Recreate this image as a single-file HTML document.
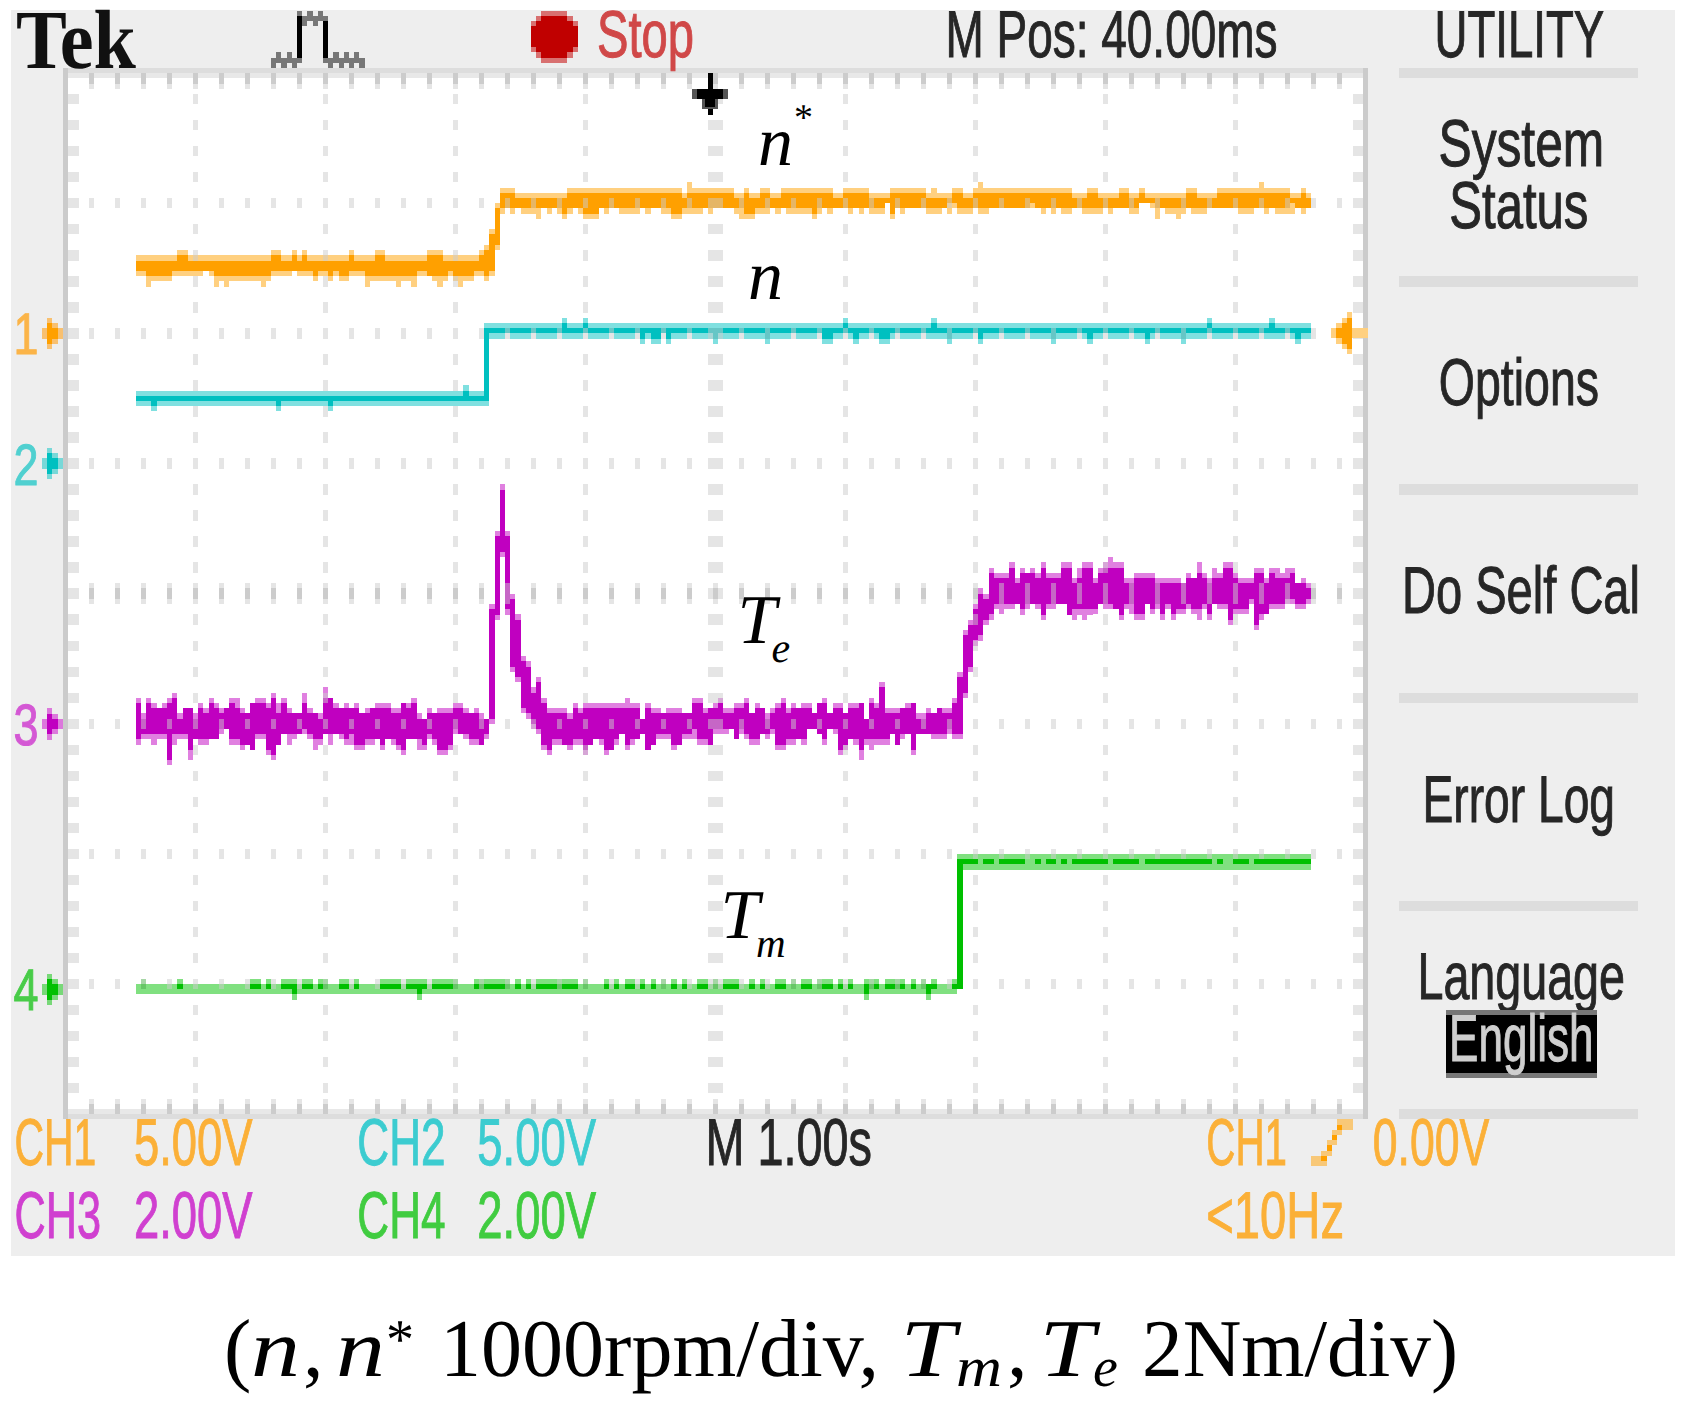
<!DOCTYPE html>
<html><head><meta charset="utf-8"><title>Tek scope</title>
<style>
html,body{margin:0;padding:0;background:#fff;}
svg{display:block;}
text{font-family:"Liberation Sans",Arimo,Arial,sans-serif;}
text.s{font-family:"Liberation Serif",Tinos,"Times New Roman",serif;}
</style></head><body>
<svg width="1685" height="1404" viewBox="0 0 1685 1404" shape-rendering="crispEdges" text-rendering="geometricPrecision">
<rect x="11" y="10.4" width="1663.6" height="1245.1" fill="#eeeeee"/>
<rect x="68.2" y="73.1" width="1294.8" height="1041.1" fill="#ffffff"/>
<rect x="63" y="67.9" width="5.2" height="1051.5" fill="#cbcbcb"/>
<rect x="1363" y="67.9" width="5.2" height="1051.5" fill="#cbcbcb"/>
<rect x="68.2" y="67.9" width="1294.8" height="5.2" fill="#dddddd"/>
<rect x="68.2" y="1114.2" width="1294.8" height="5.2" fill="#dddddd"/>
<rect x="68.2" y="73.1" width="1294.8" height="5.2" fill="#e8e8e8"/>
<rect x="68.2" y="1109" width="1294.8" height="5.2" fill="#e8e8e8"/>
<path d="M89 73.1h5.2v10.4h-5.2zM89 1103.8h5.2v10.4h-5.2zM89 588.4h5.2v10.4h-5.2zM115 73.1h5.2v10.4h-5.2zM115 1103.8h5.2v10.4h-5.2zM115 588.4h5.2v10.4h-5.2zM141 73.1h5.2v10.4h-5.2zM141 1103.8h5.2v10.4h-5.2zM141 588.4h5.2v10.4h-5.2zM167 73.1h5.2v10.4h-5.2zM167 1103.8h5.2v10.4h-5.2zM167 588.4h5.2v10.4h-5.2zM193 73.1h5.2v10.4h-5.2zM193 1103.8h5.2v10.4h-5.2zM193 588.4h5.2v10.4h-5.2zM219 73.1h5.2v10.4h-5.2zM219 1103.8h5.2v10.4h-5.2zM219 588.4h5.2v10.4h-5.2zM245 73.1h5.2v10.4h-5.2zM245 1103.8h5.2v10.4h-5.2zM245 588.4h5.2v10.4h-5.2zM271 73.1h5.2v10.4h-5.2zM271 1103.8h5.2v10.4h-5.2zM271 588.4h5.2v10.4h-5.2zM297 73.1h5.2v10.4h-5.2zM297 1103.8h5.2v10.4h-5.2zM297 588.4h5.2v10.4h-5.2zM323 73.1h5.2v10.4h-5.2zM323 1103.8h5.2v10.4h-5.2zM323 588.4h5.2v10.4h-5.2zM349 73.1h5.2v10.4h-5.2zM349 1103.8h5.2v10.4h-5.2zM349 588.4h5.2v10.4h-5.2zM375 73.1h5.2v10.4h-5.2zM375 1103.8h5.2v10.4h-5.2zM375 588.4h5.2v10.4h-5.2zM401 73.1h5.2v10.4h-5.2zM401 1103.8h5.2v10.4h-5.2zM401 588.4h5.2v10.4h-5.2zM427 73.1h5.2v10.4h-5.2zM427 1103.8h5.2v10.4h-5.2zM427 588.4h5.2v10.4h-5.2zM453 73.1h5.2v10.4h-5.2zM453 1103.8h5.2v10.4h-5.2zM453 588.4h5.2v10.4h-5.2zM479 73.1h5.2v10.4h-5.2zM479 1103.8h5.2v10.4h-5.2zM479 588.4h5.2v10.4h-5.2zM505 73.1h5.2v10.4h-5.2zM505 1103.8h5.2v10.4h-5.2zM505 588.4h5.2v10.4h-5.2zM531 73.1h5.2v10.4h-5.2zM531 1103.8h5.2v10.4h-5.2zM531 588.4h5.2v10.4h-5.2zM557 73.1h5.2v10.4h-5.2zM557 1103.8h5.2v10.4h-5.2zM557 588.4h5.2v10.4h-5.2zM583 73.1h5.2v10.4h-5.2zM583 1103.8h5.2v10.4h-5.2zM583 588.4h5.2v10.4h-5.2zM609 73.1h5.2v10.4h-5.2zM609 1103.8h5.2v10.4h-5.2zM609 588.4h5.2v10.4h-5.2zM635 73.1h5.2v10.4h-5.2zM635 1103.8h5.2v10.4h-5.2zM635 588.4h5.2v10.4h-5.2zM661 73.1h5.2v10.4h-5.2zM661 1103.8h5.2v10.4h-5.2zM661 588.4h5.2v10.4h-5.2zM687 73.1h5.2v10.4h-5.2zM687 1103.8h5.2v10.4h-5.2zM687 588.4h5.2v10.4h-5.2zM713 73.1h5.2v10.4h-5.2zM713 1103.8h5.2v10.4h-5.2zM713 588.4h5.2v10.4h-5.2zM739 73.1h5.2v10.4h-5.2zM739 1103.8h5.2v10.4h-5.2zM739 588.4h5.2v10.4h-5.2zM765 73.1h5.2v10.4h-5.2zM765 1103.8h5.2v10.4h-5.2zM765 588.4h5.2v10.4h-5.2zM791 73.1h5.2v10.4h-5.2zM791 1103.8h5.2v10.4h-5.2zM791 588.4h5.2v10.4h-5.2zM817 73.1h5.2v10.4h-5.2zM817 1103.8h5.2v10.4h-5.2zM817 588.4h5.2v10.4h-5.2zM843 73.1h5.2v10.4h-5.2zM843 1103.8h5.2v10.4h-5.2zM843 588.4h5.2v10.4h-5.2zM869 73.1h5.2v10.4h-5.2zM869 1103.8h5.2v10.4h-5.2zM869 588.4h5.2v10.4h-5.2zM895 73.1h5.2v10.4h-5.2zM895 1103.8h5.2v10.4h-5.2zM895 588.4h5.2v10.4h-5.2zM921 73.1h5.2v10.4h-5.2zM921 1103.8h5.2v10.4h-5.2zM921 588.4h5.2v10.4h-5.2zM947 73.1h5.2v10.4h-5.2zM947 1103.8h5.2v10.4h-5.2zM947 588.4h5.2v10.4h-5.2zM973 73.1h5.2v10.4h-5.2zM973 1103.8h5.2v10.4h-5.2zM973 588.4h5.2v10.4h-5.2zM999 73.1h5.2v10.4h-5.2zM999 1103.8h5.2v10.4h-5.2zM999 588.4h5.2v10.4h-5.2zM1025 73.1h5.2v10.4h-5.2zM1025 1103.8h5.2v10.4h-5.2zM1025 588.4h5.2v10.4h-5.2zM1051 73.1h5.2v10.4h-5.2zM1051 1103.8h5.2v10.4h-5.2zM1051 588.4h5.2v10.4h-5.2zM1077 73.1h5.2v10.4h-5.2zM1077 1103.8h5.2v10.4h-5.2zM1077 588.4h5.2v10.4h-5.2zM1103 73.1h5.2v10.4h-5.2zM1103 1103.8h5.2v10.4h-5.2zM1103 588.4h5.2v10.4h-5.2zM1129 73.1h5.2v10.4h-5.2zM1129 1103.8h5.2v10.4h-5.2zM1129 588.4h5.2v10.4h-5.2zM1155 73.1h5.2v10.4h-5.2zM1155 1103.8h5.2v10.4h-5.2zM1155 588.4h5.2v10.4h-5.2zM1181 73.1h5.2v10.4h-5.2zM1181 1103.8h5.2v10.4h-5.2zM1181 588.4h5.2v10.4h-5.2zM1207 73.1h5.2v10.4h-5.2zM1207 1103.8h5.2v10.4h-5.2zM1207 588.4h5.2v10.4h-5.2zM1233 73.1h5.2v10.4h-5.2zM1233 1103.8h5.2v10.4h-5.2zM1233 588.4h5.2v10.4h-5.2zM1259 73.1h5.2v10.4h-5.2zM1259 1103.8h5.2v10.4h-5.2zM1259 588.4h5.2v10.4h-5.2zM1285 73.1h5.2v10.4h-5.2zM1285 1103.8h5.2v10.4h-5.2zM1285 588.4h5.2v10.4h-5.2zM1311 73.1h5.2v10.4h-5.2zM1311 1103.8h5.2v10.4h-5.2zM1311 588.4h5.2v10.4h-5.2zM1337 73.1h5.2v10.4h-5.2zM1337 1103.8h5.2v10.4h-5.2zM1337 588.4h5.2v10.4h-5.2z" fill="#cccccc"/>
<path d="M135.8 255.3h5.2v20.8h-5.2zM141 255.3h5.2v20.8h-5.2zM146.2 255.3h5.2v31.2h-5.2zM151.4 255.3h5.2v26h-5.2zM156.6 255.3h5.2v26h-5.2zM161.8 255.3h5.2v26h-5.2zM167 255.3h5.2v26h-5.2zM172.2 255.3h5.2v20.8h-5.2zM177.4 250.1h5.2v26h-5.2zM182.6 250.1h5.2v26h-5.2zM187.8 255.3h5.2v20.8h-5.2zM193 255.3h5.2v20.8h-5.2zM198.2 255.3h5.2v20.8h-5.2zM203.4 255.3h5.2v15.6h-5.2zM208.6 255.3h5.2v20.8h-5.2zM213.8 255.3h5.2v31.2h-5.2zM219 255.3h5.2v26h-5.2zM224.2 255.3h5.2v31.2h-5.2zM229.4 255.3h5.2v26h-5.2zM234.6 255.3h5.2v26h-5.2zM239.8 255.3h5.2v26h-5.2zM245 255.3h5.2v26h-5.2zM250.2 255.3h5.2v26h-5.2zM255.4 255.3h5.2v26h-5.2zM260.6 255.3h5.2v31.2h-5.2zM265.8 255.3h5.2v26h-5.2zM271 250.1h5.2v26h-5.2zM276.2 250.1h5.2v26h-5.2zM281.4 255.3h5.2v20.8h-5.2zM286.6 255.3h5.2v20.8h-5.2zM291.8 250.1h5.2v20.8h-5.2zM297 255.3h5.2v20.8h-5.2zM302.2 250.1h5.2v26h-5.2zM307.4 255.3h5.2v20.8h-5.2zM312.6 255.3h5.2v26h-5.2zM317.8 255.3h5.2v20.8h-5.2zM323 255.3h5.2v20.8h-5.2zM328.2 255.3h5.2v26h-5.2zM333.4 255.3h5.2v20.8h-5.2zM338.6 255.3h5.2v26h-5.2zM343.8 255.3h5.2v26h-5.2zM349 250.1h5.2v26h-5.2zM354.2 255.3h5.2v20.8h-5.2zM359.4 255.3h5.2v20.8h-5.2zM364.6 255.3h5.2v31.2h-5.2zM369.8 255.3h5.2v26h-5.2zM375 250.1h5.2v31.2h-5.2zM380.2 250.1h5.2v31.2h-5.2zM385.4 255.3h5.2v26h-5.2zM390.6 255.3h5.2v26h-5.2zM395.8 255.3h5.2v31.2h-5.2zM401 255.3h5.2v26h-5.2zM406.2 255.3h5.2v26h-5.2zM411.4 255.3h5.2v31.2h-5.2zM416.6 255.3h5.2v20.8h-5.2zM421.8 255.3h5.2v20.8h-5.2zM427 250.1h5.2v26h-5.2zM432.2 250.1h5.2v31.2h-5.2zM437.4 250.1h5.2v36.4h-5.2zM442.6 255.3h5.2v26h-5.2zM447.8 255.3h5.2v20.8h-5.2zM453 255.3h5.2v26h-5.2zM458.2 255.3h5.2v31.2h-5.2zM463.4 255.3h5.2v26h-5.2zM468.6 255.3h5.2v26h-5.2zM473.8 255.3h5.2v20.8h-5.2zM479 250.1h5.2v26h-5.2zM484.2 244.9h5.2v36.4h-5.2zM489.4 229.2h5.2v46.9h-5.2zM494.6 203.2h5.2v46.9h-5.2zM499.8 187.6h5.2v26h-5.2zM505 187.6h5.2v20.8h-5.2zM510.2 187.6h5.2v26h-5.2zM515.4 192.8h5.2v15.6h-5.2zM520.6 192.8h5.2v20.8h-5.2zM525.8 192.8h5.2v20.8h-5.2zM531 192.8h5.2v20.8h-5.2zM536.2 192.8h5.2v26h-5.2zM541.4 192.8h5.2v15.6h-5.2zM546.6 192.8h5.2v20.8h-5.2zM551.8 192.8h5.2v15.6h-5.2zM557 192.8h5.2v20.8h-5.2zM562.2 192.8h5.2v26h-5.2zM567.4 187.6h5.2v26h-5.2zM572.6 187.6h5.2v20.8h-5.2zM577.8 187.6h5.2v26h-5.2zM583 187.6h5.2v31.2h-5.2zM588.2 187.6h5.2v31.2h-5.2zM593.4 187.6h5.2v31.2h-5.2zM598.6 187.6h5.2v20.8h-5.2zM603.8 187.6h5.2v26h-5.2zM609 187.6h5.2v20.8h-5.2zM614.2 187.6h5.2v20.8h-5.2zM619.4 187.6h5.2v26h-5.2zM624.6 187.6h5.2v26h-5.2zM629.8 187.6h5.2v26h-5.2zM635 187.6h5.2v26h-5.2zM640.2 187.6h5.2v20.8h-5.2zM645.4 187.6h5.2v26h-5.2zM650.6 187.6h5.2v20.8h-5.2zM655.8 187.6h5.2v20.8h-5.2zM661 187.6h5.2v26h-5.2zM666.2 187.6h5.2v26h-5.2zM671.4 187.6h5.2v31.2h-5.2zM676.6 187.6h5.2v31.2h-5.2zM681.8 192.8h5.2v20.8h-5.2zM687 182.4h5.2v31.2h-5.2zM692.2 187.6h5.2v26h-5.2zM697.4 187.6h5.2v26h-5.2zM702.6 187.6h5.2v20.8h-5.2zM707.8 187.6h5.2v26h-5.2zM713 187.6h5.2v20.8h-5.2zM718.2 187.6h5.2v20.8h-5.2zM723.4 187.6h5.2v20.8h-5.2zM728.6 187.6h5.2v20.8h-5.2zM733.8 192.8h5.2v20.8h-5.2zM739 192.8h5.2v26h-5.2zM744.2 187.6h5.2v31.2h-5.2zM749.4 192.8h5.2v26h-5.2zM754.6 192.8h5.2v20.8h-5.2zM759.8 187.6h5.2v26h-5.2zM765 187.6h5.2v26h-5.2zM770.2 192.8h5.2v15.6h-5.2zM775.4 192.8h5.2v20.8h-5.2zM780.6 187.6h5.2v20.8h-5.2zM785.8 187.6h5.2v26h-5.2zM791 187.6h5.2v26h-5.2zM796.2 187.6h5.2v26h-5.2zM801.4 187.6h5.2v26h-5.2zM806.6 187.6h5.2v26h-5.2zM811.8 187.6h5.2v31.2h-5.2zM817 187.6h5.2v26h-5.2zM822.2 187.6h5.2v20.8h-5.2zM827.4 187.6h5.2v26h-5.2zM832.6 192.8h5.2v15.6h-5.2zM837.8 192.8h5.2v15.6h-5.2zM843 187.6h5.2v20.8h-5.2zM848.2 187.6h5.2v26h-5.2zM853.4 187.6h5.2v20.8h-5.2zM858.6 187.6h5.2v26h-5.2zM863.8 187.6h5.2v20.8h-5.2zM869 192.8h5.2v20.8h-5.2zM874.2 192.8h5.2v20.8h-5.2zM879.4 192.8h5.2v20.8h-5.2zM884.6 192.8h5.2v10.4h-5.2zM889.8 187.6h5.2v31.2h-5.2zM895 187.6h5.2v20.8h-5.2zM900.2 187.6h5.2v26h-5.2zM905.4 187.6h5.2v20.8h-5.2zM910.6 187.6h5.2v20.8h-5.2zM915.8 187.6h5.2v20.8h-5.2zM921 187.6h5.2v20.8h-5.2zM926.2 192.8h5.2v20.8h-5.2zM931.4 187.6h5.2v26h-5.2zM936.6 192.8h5.2v20.8h-5.2zM941.8 192.8h5.2v15.6h-5.2zM947 192.8h5.2v20.8h-5.2zM952.2 187.6h5.2v20.8h-5.2zM957.4 187.6h5.2v26h-5.2zM962.6 192.8h5.2v20.8h-5.2zM967.8 192.8h5.2v20.8h-5.2zM973 187.6h5.2v20.8h-5.2zM978.2 182.4h5.2v31.2h-5.2zM983.4 187.6h5.2v26h-5.2zM988.6 187.6h5.2v20.8h-5.2zM993.8 187.6h5.2v20.8h-5.2zM999 187.6h5.2v20.8h-5.2zM1004.2 187.6h5.2v20.8h-5.2zM1009.4 187.6h5.2v20.8h-5.2zM1014.6 187.6h5.2v20.8h-5.2zM1019.8 187.6h5.2v20.8h-5.2zM1025 187.6h5.2v20.8h-5.2zM1030.2 187.6h5.2v20.8h-5.2zM1035.4 187.6h5.2v20.8h-5.2zM1040.6 187.6h5.2v26h-5.2zM1045.8 187.6h5.2v20.8h-5.2zM1051 187.6h5.2v26h-5.2zM1056.2 187.6h5.2v20.8h-5.2zM1061.4 187.6h5.2v26h-5.2zM1066.6 187.6h5.2v26h-5.2zM1071.8 192.8h5.2v15.6h-5.2zM1077 192.8h5.2v15.6h-5.2zM1082.2 192.8h5.2v20.8h-5.2zM1087.4 187.6h5.2v26h-5.2zM1092.6 187.6h5.2v26h-5.2zM1097.8 192.8h5.2v20.8h-5.2zM1103 192.8h5.2v15.6h-5.2zM1108.2 192.8h5.2v20.8h-5.2zM1113.4 192.8h5.2v15.6h-5.2zM1118.6 187.6h5.2v20.8h-5.2zM1123.8 187.6h5.2v20.8h-5.2zM1129 192.8h5.2v20.8h-5.2zM1134.2 192.8h5.2v20.8h-5.2zM1139.4 187.6h5.2v15.6h-5.2zM1144.6 192.8h5.2v10.4h-5.2zM1149.8 192.8h5.2v15.6h-5.2zM1155 192.8h5.2v26h-5.2zM1160.2 192.8h5.2v15.6h-5.2zM1165.4 192.8h5.2v20.8h-5.2zM1170.6 192.8h5.2v20.8h-5.2zM1175.8 192.8h5.2v26h-5.2zM1181 192.8h5.2v20.8h-5.2zM1186.2 187.6h5.2v20.8h-5.2zM1191.4 187.6h5.2v26h-5.2zM1196.6 192.8h5.2v20.8h-5.2zM1201.8 192.8h5.2v20.8h-5.2zM1207 192.8h5.2v15.6h-5.2zM1212.2 192.8h5.2v15.6h-5.2zM1217.4 187.6h5.2v20.8h-5.2zM1222.6 187.6h5.2v20.8h-5.2zM1227.8 187.6h5.2v20.8h-5.2zM1233 187.6h5.2v20.8h-5.2zM1238.2 187.6h5.2v26h-5.2zM1243.4 187.6h5.2v26h-5.2zM1248.6 187.6h5.2v26h-5.2zM1253.8 187.6h5.2v20.8h-5.2zM1259 182.4h5.2v26h-5.2zM1264.2 187.6h5.2v26h-5.2zM1269.4 187.6h5.2v20.8h-5.2zM1274.6 187.6h5.2v26h-5.2zM1279.8 187.6h5.2v26h-5.2zM1285 187.6h5.2v26h-5.2zM1290.2 192.8h5.2v20.8h-5.2zM1295.4 192.8h5.2v15.6h-5.2zM1300.6 187.6h5.2v26h-5.2zM1305.8 192.8h5.2v15.6h-5.2z" fill="#ffd080"/>
<path d="M135.8 260.5h5.2v10.4h-5.2zM141 260.5h5.2v10.4h-5.2zM146.2 260.5h5.2v15.6h-5.2zM151.4 260.5h5.2v15.6h-5.2zM156.6 260.5h5.2v15.6h-5.2zM161.8 260.5h5.2v15.6h-5.2zM167 260.5h5.2v15.6h-5.2zM172.2 260.5h5.2v10.4h-5.2zM177.4 255.3h5.2v15.6h-5.2zM182.6 255.3h5.2v15.6h-5.2zM187.8 260.5h5.2v10.4h-5.2zM193 260.5h5.2v10.4h-5.2zM198.2 260.5h5.2v10.4h-5.2zM203.4 260.5h5.2v10.4h-5.2zM208.6 260.5h5.2v10.4h-5.2zM213.8 260.5h5.2v15.6h-5.2zM219 260.5h5.2v15.6h-5.2zM224.2 260.5h5.2v15.6h-5.2zM229.4 260.5h5.2v15.6h-5.2zM234.6 260.5h5.2v15.6h-5.2zM239.8 260.5h5.2v15.6h-5.2zM245 260.5h5.2v15.6h-5.2zM250.2 260.5h5.2v15.6h-5.2zM255.4 260.5h5.2v15.6h-5.2zM260.6 260.5h5.2v15.6h-5.2zM265.8 260.5h5.2v15.6h-5.2zM271 255.3h5.2v15.6h-5.2zM276.2 255.3h5.2v15.6h-5.2zM281.4 260.5h5.2v10.4h-5.2zM286.6 260.5h5.2v10.4h-5.2zM291.8 255.3h5.2v15.6h-5.2zM297 260.5h5.2v10.4h-5.2zM302.2 255.3h5.2v15.6h-5.2zM307.4 260.5h5.2v10.4h-5.2zM312.6 260.5h5.2v15.6h-5.2zM317.8 260.5h5.2v10.4h-5.2zM323 260.5h5.2v10.4h-5.2zM328.2 260.5h5.2v15.6h-5.2zM333.4 260.5h5.2v10.4h-5.2zM338.6 260.5h5.2v15.6h-5.2zM343.8 260.5h5.2v15.6h-5.2zM349 255.3h5.2v15.6h-5.2zM354.2 260.5h5.2v10.4h-5.2zM359.4 260.5h5.2v10.4h-5.2zM364.6 260.5h5.2v15.6h-5.2zM369.8 260.5h5.2v15.6h-5.2zM375 255.3h5.2v20.8h-5.2zM380.2 255.3h5.2v20.8h-5.2zM385.4 260.5h5.2v15.6h-5.2zM390.6 260.5h5.2v15.6h-5.2zM395.8 260.5h5.2v15.6h-5.2zM401 260.5h5.2v15.6h-5.2zM406.2 260.5h5.2v15.6h-5.2zM411.4 260.5h5.2v15.6h-5.2zM416.6 260.5h5.2v10.4h-5.2zM421.8 260.5h5.2v10.4h-5.2zM427 255.3h5.2v20.8h-5.2zM432.2 255.3h5.2v20.8h-5.2zM437.4 255.3h5.2v20.8h-5.2zM442.6 260.5h5.2v15.6h-5.2zM447.8 260.5h5.2v10.4h-5.2zM453 260.5h5.2v15.6h-5.2zM458.2 260.5h5.2v15.6h-5.2zM463.4 260.5h5.2v15.6h-5.2zM468.6 260.5h5.2v15.6h-5.2zM473.8 260.5h5.2v10.4h-5.2zM479 255.3h5.2v15.6h-5.2zM484.2 250.1h5.2v26h-5.2zM489.4 234.4h5.2v36.4h-5.2zM494.6 208.4h5.2v36.4h-5.2zM499.8 192.8h5.2v15.6h-5.2zM505 192.8h5.2v15.6h-5.2zM510.2 192.8h5.2v15.6h-5.2zM515.4 198h5.2v10.4h-5.2zM520.6 198h5.2v10.4h-5.2zM525.8 198h5.2v10.4h-5.2zM531 198h5.2v10.4h-5.2zM536.2 198h5.2v10.4h-5.2zM541.4 198h5.2v10.4h-5.2zM546.6 198h5.2v10.4h-5.2zM551.8 198h5.2v10.4h-5.2zM557 198h5.2v10.4h-5.2zM562.2 198h5.2v15.6h-5.2zM567.4 192.8h5.2v15.6h-5.2zM572.6 192.8h5.2v15.6h-5.2zM577.8 192.8h5.2v15.6h-5.2zM583 192.8h5.2v20.8h-5.2zM588.2 192.8h5.2v20.8h-5.2zM593.4 192.8h5.2v20.8h-5.2zM598.6 192.8h5.2v15.6h-5.2zM603.8 192.8h5.2v15.6h-5.2zM609 192.8h5.2v15.6h-5.2zM614.2 192.8h5.2v15.6h-5.2zM619.4 192.8h5.2v15.6h-5.2zM624.6 192.8h5.2v15.6h-5.2zM629.8 192.8h5.2v15.6h-5.2zM635 192.8h5.2v15.6h-5.2zM640.2 192.8h5.2v15.6h-5.2zM645.4 192.8h5.2v15.6h-5.2zM650.6 192.8h5.2v15.6h-5.2zM655.8 192.8h5.2v15.6h-5.2zM661 192.8h5.2v15.6h-5.2zM666.2 192.8h5.2v15.6h-5.2zM671.4 192.8h5.2v20.8h-5.2zM676.6 192.8h5.2v20.8h-5.2zM681.8 198h5.2v10.4h-5.2zM687 192.8h5.2v15.6h-5.2zM692.2 192.8h5.2v15.6h-5.2zM697.4 192.8h5.2v15.6h-5.2zM702.6 192.8h5.2v15.6h-5.2zM707.8 192.8h5.2v15.6h-5.2zM713 192.8h5.2v15.6h-5.2zM718.2 192.8h5.2v15.6h-5.2zM723.4 192.8h5.2v15.6h-5.2zM728.6 192.8h5.2v15.6h-5.2zM733.8 198h5.2v10.4h-5.2zM739 198h5.2v10.4h-5.2zM744.2 192.8h5.2v20.8h-5.2zM749.4 198h5.2v15.6h-5.2zM754.6 198h5.2v10.4h-5.2zM759.8 192.8h5.2v15.6h-5.2zM765 192.8h5.2v15.6h-5.2zM770.2 198h5.2v10.4h-5.2zM775.4 198h5.2v10.4h-5.2zM780.6 192.8h5.2v15.6h-5.2zM785.8 192.8h5.2v15.6h-5.2zM791 192.8h5.2v15.6h-5.2zM796.2 192.8h5.2v15.6h-5.2zM801.4 192.8h5.2v15.6h-5.2zM806.6 192.8h5.2v15.6h-5.2zM811.8 192.8h5.2v20.8h-5.2zM817 192.8h5.2v15.6h-5.2zM822.2 192.8h5.2v15.6h-5.2zM827.4 192.8h5.2v15.6h-5.2zM832.6 198h5.2v10.4h-5.2zM837.8 198h5.2v10.4h-5.2zM843 192.8h5.2v15.6h-5.2zM848.2 192.8h5.2v15.6h-5.2zM853.4 192.8h5.2v15.6h-5.2zM858.6 192.8h5.2v15.6h-5.2zM863.8 192.8h5.2v15.6h-5.2zM869 198h5.2v10.4h-5.2zM874.2 198h5.2v10.4h-5.2zM879.4 198h5.2v10.4h-5.2zM884.6 198h5.2v5.2h-5.2zM889.8 192.8h5.2v20.8h-5.2zM895 192.8h5.2v15.6h-5.2zM900.2 192.8h5.2v15.6h-5.2zM905.4 192.8h5.2v15.6h-5.2zM910.6 192.8h5.2v15.6h-5.2zM915.8 192.8h5.2v15.6h-5.2zM921 192.8h5.2v15.6h-5.2zM926.2 198h5.2v10.4h-5.2zM931.4 198h5.2v10.4h-5.2zM936.6 198h5.2v10.4h-5.2zM941.8 198h5.2v10.4h-5.2zM947 198h5.2v5.2h-5.2zM952.2 192.8h5.2v10.4h-5.2zM957.4 192.8h5.2v15.6h-5.2zM962.6 198h5.2v10.4h-5.2zM967.8 198h5.2v10.4h-5.2zM973 192.8h5.2v15.6h-5.2zM978.2 192.8h5.2v15.6h-5.2zM983.4 192.8h5.2v15.6h-5.2zM988.6 192.8h5.2v15.6h-5.2zM993.8 192.8h5.2v15.6h-5.2zM999 192.8h5.2v15.6h-5.2zM1004.2 192.8h5.2v15.6h-5.2zM1009.4 192.8h5.2v15.6h-5.2zM1014.6 192.8h5.2v15.6h-5.2zM1019.8 192.8h5.2v15.6h-5.2zM1025 192.8h5.2v15.6h-5.2zM1030.2 192.8h5.2v10.4h-5.2zM1035.4 192.8h5.2v15.6h-5.2zM1040.6 192.8h5.2v15.6h-5.2zM1045.8 192.8h5.2v15.6h-5.2zM1051 192.8h5.2v15.6h-5.2zM1056.2 192.8h5.2v15.6h-5.2zM1061.4 192.8h5.2v15.6h-5.2zM1066.6 192.8h5.2v15.6h-5.2zM1071.8 198h5.2v10.4h-5.2zM1077 198h5.2v10.4h-5.2zM1082.2 198h5.2v10.4h-5.2zM1087.4 192.8h5.2v15.6h-5.2zM1092.6 192.8h5.2v15.6h-5.2zM1097.8 198h5.2v10.4h-5.2zM1103 198h5.2v10.4h-5.2zM1108.2 198h5.2v10.4h-5.2zM1113.4 198h5.2v10.4h-5.2zM1118.6 192.8h5.2v15.6h-5.2zM1123.8 192.8h5.2v15.6h-5.2zM1129 198h5.2v10.4h-5.2zM1134.2 198h5.2v10.4h-5.2zM1139.4 192.8h5.2v10.4h-5.2zM1144.6 198h5.2v5.2h-5.2zM1149.8 198h5.2v5.2h-5.2zM1155 198h5.2v10.4h-5.2zM1160.2 198h5.2v10.4h-5.2zM1165.4 198h5.2v10.4h-5.2zM1170.6 198h5.2v10.4h-5.2zM1175.8 198h5.2v10.4h-5.2zM1181 198h5.2v10.4h-5.2zM1186.2 192.8h5.2v15.6h-5.2zM1191.4 192.8h5.2v15.6h-5.2zM1196.6 198h5.2v10.4h-5.2zM1201.8 198h5.2v10.4h-5.2zM1207 198h5.2v10.4h-5.2zM1212.2 198h5.2v10.4h-5.2zM1217.4 192.8h5.2v15.6h-5.2zM1222.6 192.8h5.2v15.6h-5.2zM1227.8 192.8h5.2v15.6h-5.2zM1233 192.8h5.2v15.6h-5.2zM1238.2 192.8h5.2v15.6h-5.2zM1243.4 192.8h5.2v15.6h-5.2zM1248.6 192.8h5.2v15.6h-5.2zM1253.8 192.8h5.2v15.6h-5.2zM1259 192.8h5.2v15.6h-5.2zM1264.2 192.8h5.2v15.6h-5.2zM1269.4 192.8h5.2v15.6h-5.2zM1274.6 192.8h5.2v15.6h-5.2zM1279.8 192.8h5.2v15.6h-5.2zM1285 192.8h5.2v15.6h-5.2zM1290.2 198h5.2v5.2h-5.2zM1295.4 198h5.2v10.4h-5.2zM1300.6 192.8h5.2v15.6h-5.2zM1305.8 198h5.2v10.4h-5.2z" fill="#ffa000"/>
<path d="M135.8 390.6h5.2v15.6h-5.2zM141 390.6h5.2v15.6h-5.2zM146.2 390.6h5.2v15.6h-5.2zM151.4 390.6h5.2v20.8h-5.2zM156.6 390.6h5.2v15.6h-5.2zM161.8 390.6h5.2v15.6h-5.2zM167 390.6h5.2v15.6h-5.2zM172.2 390.6h5.2v15.6h-5.2zM177.4 390.6h5.2v15.6h-5.2zM182.6 390.6h5.2v15.6h-5.2zM187.8 390.6h5.2v15.6h-5.2zM193 390.6h5.2v15.6h-5.2zM198.2 390.6h5.2v15.6h-5.2zM203.4 390.6h5.2v15.6h-5.2zM208.6 390.6h5.2v15.6h-5.2zM213.8 390.6h5.2v15.6h-5.2zM219 390.6h5.2v15.6h-5.2zM224.2 390.6h5.2v15.6h-5.2zM229.4 390.6h5.2v15.6h-5.2zM234.6 390.6h5.2v15.6h-5.2zM239.8 390.6h5.2v15.6h-5.2zM245 390.6h5.2v15.6h-5.2zM250.2 390.6h5.2v15.6h-5.2zM255.4 390.6h5.2v15.6h-5.2zM260.6 390.6h5.2v15.6h-5.2zM265.8 390.6h5.2v15.6h-5.2zM271 390.6h5.2v15.6h-5.2zM276.2 390.6h5.2v20.8h-5.2zM281.4 390.6h5.2v15.6h-5.2zM286.6 390.6h5.2v15.6h-5.2zM291.8 390.6h5.2v15.6h-5.2zM297 390.6h5.2v15.6h-5.2zM302.2 390.6h5.2v15.6h-5.2zM307.4 390.6h5.2v15.6h-5.2zM312.6 390.6h5.2v15.6h-5.2zM317.8 390.6h5.2v15.6h-5.2zM323 390.6h5.2v15.6h-5.2zM328.2 390.6h5.2v20.8h-5.2zM333.4 390.6h5.2v15.6h-5.2zM338.6 390.6h5.2v15.6h-5.2zM343.8 390.6h5.2v15.6h-5.2zM349 390.6h5.2v15.6h-5.2zM354.2 390.6h5.2v15.6h-5.2zM359.4 390.6h5.2v15.6h-5.2zM364.6 390.6h5.2v15.6h-5.2zM369.8 390.6h5.2v15.6h-5.2zM375 390.6h5.2v15.6h-5.2zM380.2 390.6h5.2v15.6h-5.2zM385.4 390.6h5.2v15.6h-5.2zM390.6 390.6h5.2v15.6h-5.2zM395.8 390.6h5.2v15.6h-5.2zM401 390.6h5.2v15.6h-5.2zM406.2 390.6h5.2v15.6h-5.2zM411.4 390.6h5.2v15.6h-5.2zM416.6 390.6h5.2v15.6h-5.2zM421.8 390.6h5.2v15.6h-5.2zM427 390.6h5.2v15.6h-5.2zM432.2 390.6h5.2v15.6h-5.2zM437.4 390.6h5.2v15.6h-5.2zM442.6 390.6h5.2v15.6h-5.2zM447.8 390.6h5.2v15.6h-5.2zM453 390.6h5.2v15.6h-5.2zM458.2 390.6h5.2v15.6h-5.2zM463.4 385.4h5.2v20.8h-5.2zM468.6 390.6h5.2v15.6h-5.2zM473.8 390.6h5.2v15.6h-5.2zM479 390.6h5.2v15.6h-5.2zM484.2 322.9h5.2v83.3h-5.2zM489.4 322.9h5.2v15.6h-5.2zM494.6 322.9h5.2v15.6h-5.2zM499.8 322.9h5.2v15.6h-5.2zM505 322.9h5.2v10.4h-5.2zM510.2 322.9h5.2v15.6h-5.2zM515.4 322.9h5.2v15.6h-5.2zM520.6 322.9h5.2v15.6h-5.2zM525.8 322.9h5.2v15.6h-5.2zM531 322.9h5.2v10.4h-5.2zM536.2 322.9h5.2v15.6h-5.2zM541.4 322.9h5.2v15.6h-5.2zM546.6 322.9h5.2v15.6h-5.2zM551.8 322.9h5.2v15.6h-5.2zM557 322.9h5.2v10.4h-5.2zM562.2 317.7h5.2v20.8h-5.2zM567.4 322.9h5.2v15.6h-5.2zM572.6 322.9h5.2v15.6h-5.2zM577.8 322.9h5.2v15.6h-5.2zM583 317.7h5.2v15.6h-5.2zM588.2 322.9h5.2v15.6h-5.2zM593.4 322.9h5.2v15.6h-5.2zM598.6 322.9h5.2v15.6h-5.2zM603.8 322.9h5.2v15.6h-5.2zM609 322.9h5.2v10.4h-5.2zM614.2 322.9h5.2v15.6h-5.2zM619.4 322.9h5.2v15.6h-5.2zM624.6 322.9h5.2v15.6h-5.2zM629.8 322.9h5.2v15.6h-5.2zM635 322.9h5.2v10.4h-5.2zM640.2 322.9h5.2v20.8h-5.2zM645.4 322.9h5.2v15.6h-5.2zM650.6 322.9h5.2v20.8h-5.2zM655.8 322.9h5.2v20.8h-5.2zM661 322.9h5.2v10.4h-5.2zM666.2 322.9h5.2v20.8h-5.2zM671.4 322.9h5.2v15.6h-5.2zM676.6 322.9h5.2v15.6h-5.2zM681.8 322.9h5.2v15.6h-5.2zM687 322.9h5.2v10.4h-5.2zM692.2 322.9h5.2v15.6h-5.2zM697.4 322.9h5.2v15.6h-5.2zM702.6 322.9h5.2v15.6h-5.2zM707.8 322.9h5.2v15.6h-5.2zM713 322.9h5.2v20.8h-5.2zM718.2 322.9h5.2v15.6h-5.2zM723.4 322.9h5.2v15.6h-5.2zM728.6 322.9h5.2v15.6h-5.2zM733.8 322.9h5.2v15.6h-5.2zM739 322.9h5.2v10.4h-5.2zM744.2 322.9h5.2v15.6h-5.2zM749.4 322.9h5.2v15.6h-5.2zM754.6 322.9h5.2v15.6h-5.2zM759.8 322.9h5.2v15.6h-5.2zM765 322.9h5.2v20.8h-5.2zM770.2 322.9h5.2v15.6h-5.2zM775.4 322.9h5.2v15.6h-5.2zM780.6 322.9h5.2v15.6h-5.2zM785.8 322.9h5.2v15.6h-5.2zM791 322.9h5.2v10.4h-5.2zM796.2 322.9h5.2v15.6h-5.2zM801.4 322.9h5.2v15.6h-5.2zM806.6 322.9h5.2v15.6h-5.2zM811.8 322.9h5.2v15.6h-5.2zM817 322.9h5.2v10.4h-5.2zM822.2 322.9h5.2v20.8h-5.2zM827.4 322.9h5.2v20.8h-5.2zM832.6 322.9h5.2v15.6h-5.2zM837.8 322.9h5.2v15.6h-5.2zM843 317.7h5.2v15.6h-5.2zM848.2 322.9h5.2v15.6h-5.2zM853.4 322.9h5.2v20.8h-5.2zM858.6 322.9h5.2v15.6h-5.2zM863.8 322.9h5.2v15.6h-5.2zM869 322.9h5.2v10.4h-5.2zM874.2 322.9h5.2v15.6h-5.2zM879.4 322.9h5.2v20.8h-5.2zM884.6 322.9h5.2v20.8h-5.2zM889.8 322.9h5.2v15.6h-5.2zM895 322.9h5.2v10.4h-5.2zM900.2 322.9h5.2v15.6h-5.2zM905.4 322.9h5.2v15.6h-5.2zM910.6 322.9h5.2v15.6h-5.2zM915.8 322.9h5.2v15.6h-5.2zM921 322.9h5.2v10.4h-5.2zM926.2 322.9h5.2v15.6h-5.2zM931.4 317.7h5.2v20.8h-5.2zM936.6 322.9h5.2v15.6h-5.2zM941.8 322.9h5.2v15.6h-5.2zM947 322.9h5.2v20.8h-5.2zM952.2 322.9h5.2v15.6h-5.2zM957.4 322.9h5.2v15.6h-5.2zM962.6 322.9h5.2v15.6h-5.2zM967.8 322.9h5.2v15.6h-5.2zM973 322.9h5.2v10.4h-5.2zM978.2 322.9h5.2v20.8h-5.2zM983.4 322.9h5.2v15.6h-5.2zM988.6 322.9h5.2v15.6h-5.2zM993.8 322.9h5.2v15.6h-5.2zM999 322.9h5.2v10.4h-5.2zM1004.2 322.9h5.2v15.6h-5.2zM1009.4 322.9h5.2v15.6h-5.2zM1014.6 322.9h5.2v15.6h-5.2zM1019.8 322.9h5.2v15.6h-5.2zM1025 322.9h5.2v10.4h-5.2zM1030.2 322.9h5.2v15.6h-5.2zM1035.4 322.9h5.2v15.6h-5.2zM1040.6 322.9h5.2v15.6h-5.2zM1045.8 322.9h5.2v15.6h-5.2zM1051 322.9h5.2v20.8h-5.2zM1056.2 322.9h5.2v15.6h-5.2zM1061.4 322.9h5.2v15.6h-5.2zM1066.6 322.9h5.2v15.6h-5.2zM1071.8 322.9h5.2v15.6h-5.2zM1077 322.9h5.2v10.4h-5.2zM1082.2 322.9h5.2v15.6h-5.2zM1087.4 322.9h5.2v20.8h-5.2zM1092.6 322.9h5.2v15.6h-5.2zM1097.8 322.9h5.2v15.6h-5.2zM1103 322.9h5.2v10.4h-5.2zM1108.2 322.9h5.2v15.6h-5.2zM1113.4 322.9h5.2v15.6h-5.2zM1118.6 322.9h5.2v15.6h-5.2zM1123.8 322.9h5.2v15.6h-5.2zM1129 322.9h5.2v10.4h-5.2zM1134.2 322.9h5.2v15.6h-5.2zM1139.4 322.9h5.2v15.6h-5.2zM1144.6 322.9h5.2v20.8h-5.2zM1149.8 322.9h5.2v15.6h-5.2zM1155 322.9h5.2v10.4h-5.2zM1160.2 322.9h5.2v15.6h-5.2zM1165.4 322.9h5.2v15.6h-5.2zM1170.6 322.9h5.2v15.6h-5.2zM1175.8 322.9h5.2v15.6h-5.2zM1181 322.9h5.2v20.8h-5.2zM1186.2 322.9h5.2v15.6h-5.2zM1191.4 322.9h5.2v15.6h-5.2zM1196.6 322.9h5.2v15.6h-5.2zM1201.8 322.9h5.2v15.6h-5.2zM1207 317.7h5.2v15.6h-5.2zM1212.2 322.9h5.2v15.6h-5.2zM1217.4 322.9h5.2v15.6h-5.2zM1222.6 322.9h5.2v15.6h-5.2zM1227.8 322.9h5.2v15.6h-5.2zM1233 322.9h5.2v10.4h-5.2zM1238.2 322.9h5.2v15.6h-5.2zM1243.4 322.9h5.2v15.6h-5.2zM1248.6 322.9h5.2v15.6h-5.2zM1253.8 322.9h5.2v15.6h-5.2zM1259 322.9h5.2v10.4h-5.2zM1264.2 322.9h5.2v15.6h-5.2zM1269.4 317.7h5.2v20.8h-5.2zM1274.6 322.9h5.2v15.6h-5.2zM1279.8 322.9h5.2v15.6h-5.2zM1285 322.9h5.2v10.4h-5.2zM1290.2 322.9h5.2v15.6h-5.2zM1295.4 322.9h5.2v20.8h-5.2zM1300.6 322.9h5.2v15.6h-5.2zM1305.8 322.9h5.2v15.6h-5.2z" fill="#80e0e0"/>
<path d="M135.8 395.8h5.2v5.2h-5.2zM141 395.8h5.2v5.2h-5.2zM146.2 395.8h5.2v5.2h-5.2zM151.4 395.8h5.2v10.4h-5.2zM156.6 395.8h5.2v5.2h-5.2zM161.8 395.8h5.2v5.2h-5.2zM167 395.8h5.2v5.2h-5.2zM172.2 395.8h5.2v5.2h-5.2zM177.4 395.8h5.2v5.2h-5.2zM182.6 395.8h5.2v5.2h-5.2zM187.8 395.8h5.2v5.2h-5.2zM193 395.8h5.2v5.2h-5.2zM198.2 395.8h5.2v5.2h-5.2zM203.4 395.8h5.2v5.2h-5.2zM208.6 395.8h5.2v5.2h-5.2zM213.8 395.8h5.2v5.2h-5.2zM219 395.8h5.2v5.2h-5.2zM224.2 395.8h5.2v5.2h-5.2zM229.4 395.8h5.2v5.2h-5.2zM234.6 395.8h5.2v5.2h-5.2zM239.8 395.8h5.2v5.2h-5.2zM245 395.8h5.2v5.2h-5.2zM250.2 395.8h5.2v5.2h-5.2zM255.4 395.8h5.2v5.2h-5.2zM260.6 395.8h5.2v5.2h-5.2zM265.8 395.8h5.2v5.2h-5.2zM271 395.8h5.2v5.2h-5.2zM276.2 395.8h5.2v10.4h-5.2zM281.4 395.8h5.2v5.2h-5.2zM286.6 395.8h5.2v5.2h-5.2zM291.8 395.8h5.2v5.2h-5.2zM297 395.8h5.2v5.2h-5.2zM302.2 395.8h5.2v5.2h-5.2zM307.4 395.8h5.2v5.2h-5.2zM312.6 395.8h5.2v5.2h-5.2zM317.8 395.8h5.2v5.2h-5.2zM323 395.8h5.2v5.2h-5.2zM328.2 395.8h5.2v10.4h-5.2zM333.4 395.8h5.2v5.2h-5.2zM338.6 395.8h5.2v5.2h-5.2zM343.8 395.8h5.2v5.2h-5.2zM349 395.8h5.2v5.2h-5.2zM354.2 395.8h5.2v5.2h-5.2zM359.4 395.8h5.2v5.2h-5.2zM364.6 395.8h5.2v5.2h-5.2zM369.8 395.8h5.2v5.2h-5.2zM375 395.8h5.2v5.2h-5.2zM380.2 395.8h5.2v5.2h-5.2zM385.4 395.8h5.2v5.2h-5.2zM390.6 395.8h5.2v5.2h-5.2zM395.8 395.8h5.2v5.2h-5.2zM401 395.8h5.2v5.2h-5.2zM406.2 395.8h5.2v5.2h-5.2zM411.4 395.8h5.2v5.2h-5.2zM416.6 395.8h5.2v5.2h-5.2zM421.8 395.8h5.2v5.2h-5.2zM427 395.8h5.2v5.2h-5.2zM432.2 395.8h5.2v5.2h-5.2zM437.4 395.8h5.2v5.2h-5.2zM442.6 395.8h5.2v5.2h-5.2zM447.8 395.8h5.2v5.2h-5.2zM453 395.8h5.2v5.2h-5.2zM458.2 395.8h5.2v5.2h-5.2zM463.4 390.6h5.2v10.4h-5.2zM468.6 395.8h5.2v5.2h-5.2zM473.8 395.8h5.2v5.2h-5.2zM479 395.8h5.2v5.2h-5.2zM484.2 328.1h5.2v72.9h-5.2zM489.4 328.1h5.2v5.2h-5.2zM494.6 328.1h5.2v5.2h-5.2zM499.8 328.1h5.2v5.2h-5.2zM505 328.1h5.2v5.2h-5.2zM510.2 328.1h5.2v5.2h-5.2zM515.4 328.1h5.2v5.2h-5.2zM520.6 328.1h5.2v5.2h-5.2zM525.8 328.1h5.2v5.2h-5.2zM531 328.1h5.2v5.2h-5.2zM536.2 328.1h5.2v5.2h-5.2zM541.4 328.1h5.2v5.2h-5.2zM546.6 328.1h5.2v5.2h-5.2zM551.8 328.1h5.2v5.2h-5.2zM557 328.1h5.2v5.2h-5.2zM562.2 322.9h5.2v10.4h-5.2zM567.4 328.1h5.2v5.2h-5.2zM572.6 328.1h5.2v5.2h-5.2zM577.8 328.1h5.2v5.2h-5.2zM583 322.9h5.2v10.4h-5.2zM588.2 328.1h5.2v5.2h-5.2zM593.4 328.1h5.2v5.2h-5.2zM598.6 328.1h5.2v5.2h-5.2zM603.8 328.1h5.2v5.2h-5.2zM609 328.1h5.2v5.2h-5.2zM614.2 328.1h5.2v5.2h-5.2zM619.4 328.1h5.2v5.2h-5.2zM624.6 328.1h5.2v5.2h-5.2zM629.8 328.1h5.2v5.2h-5.2zM635 328.1h5.2v5.2h-5.2zM640.2 328.1h5.2v10.4h-5.2zM645.4 328.1h5.2v5.2h-5.2zM650.6 328.1h5.2v10.4h-5.2zM655.8 328.1h5.2v10.4h-5.2zM661 328.1h5.2v5.2h-5.2zM666.2 328.1h5.2v10.4h-5.2zM671.4 328.1h5.2v5.2h-5.2zM676.6 328.1h5.2v5.2h-5.2zM681.8 328.1h5.2v5.2h-5.2zM687 328.1h5.2v5.2h-5.2zM692.2 328.1h5.2v5.2h-5.2zM697.4 328.1h5.2v5.2h-5.2zM702.6 328.1h5.2v5.2h-5.2zM707.8 328.1h5.2v5.2h-5.2zM713 328.1h5.2v10.4h-5.2zM718.2 328.1h5.2v5.2h-5.2zM723.4 328.1h5.2v5.2h-5.2zM728.6 328.1h5.2v5.2h-5.2zM733.8 328.1h5.2v5.2h-5.2zM739 328.1h5.2v5.2h-5.2zM744.2 328.1h5.2v5.2h-5.2zM749.4 328.1h5.2v5.2h-5.2zM754.6 328.1h5.2v5.2h-5.2zM759.8 328.1h5.2v5.2h-5.2zM765 328.1h5.2v10.4h-5.2zM770.2 328.1h5.2v5.2h-5.2zM775.4 328.1h5.2v5.2h-5.2zM780.6 328.1h5.2v5.2h-5.2zM785.8 328.1h5.2v5.2h-5.2zM791 328.1h5.2v5.2h-5.2zM796.2 328.1h5.2v5.2h-5.2zM801.4 328.1h5.2v5.2h-5.2zM806.6 328.1h5.2v5.2h-5.2zM811.8 328.1h5.2v5.2h-5.2zM817 328.1h5.2v5.2h-5.2zM822.2 328.1h5.2v10.4h-5.2zM827.4 328.1h5.2v10.4h-5.2zM832.6 328.1h5.2v5.2h-5.2zM837.8 328.1h5.2v5.2h-5.2zM843 322.9h5.2v10.4h-5.2zM848.2 328.1h5.2v5.2h-5.2zM853.4 328.1h5.2v10.4h-5.2zM858.6 328.1h5.2v5.2h-5.2zM863.8 328.1h5.2v5.2h-5.2zM869 328.1h5.2v5.2h-5.2zM874.2 328.1h5.2v5.2h-5.2zM879.4 328.1h5.2v10.4h-5.2zM884.6 328.1h5.2v10.4h-5.2zM889.8 328.1h5.2v5.2h-5.2zM895 328.1h5.2v5.2h-5.2zM900.2 328.1h5.2v5.2h-5.2zM905.4 328.1h5.2v5.2h-5.2zM910.6 328.1h5.2v5.2h-5.2zM915.8 328.1h5.2v5.2h-5.2zM921 328.1h5.2v5.2h-5.2zM926.2 328.1h5.2v5.2h-5.2zM931.4 322.9h5.2v10.4h-5.2zM936.6 328.1h5.2v5.2h-5.2zM941.8 328.1h5.2v5.2h-5.2zM947 328.1h5.2v10.4h-5.2zM952.2 328.1h5.2v5.2h-5.2zM957.4 328.1h5.2v5.2h-5.2zM962.6 328.1h5.2v5.2h-5.2zM967.8 328.1h5.2v5.2h-5.2zM973 328.1h5.2v5.2h-5.2zM978.2 328.1h5.2v10.4h-5.2zM983.4 328.1h5.2v5.2h-5.2zM988.6 328.1h5.2v5.2h-5.2zM993.8 328.1h5.2v5.2h-5.2zM999 328.1h5.2v5.2h-5.2zM1004.2 328.1h5.2v5.2h-5.2zM1009.4 328.1h5.2v5.2h-5.2zM1014.6 328.1h5.2v5.2h-5.2zM1019.8 328.1h5.2v5.2h-5.2zM1025 328.1h5.2v5.2h-5.2zM1030.2 328.1h5.2v5.2h-5.2zM1035.4 328.1h5.2v5.2h-5.2zM1040.6 328.1h5.2v5.2h-5.2zM1045.8 328.1h5.2v5.2h-5.2zM1051 328.1h5.2v10.4h-5.2zM1056.2 328.1h5.2v5.2h-5.2zM1061.4 328.1h5.2v5.2h-5.2zM1066.6 328.1h5.2v5.2h-5.2zM1071.8 328.1h5.2v5.2h-5.2zM1077 328.1h5.2v5.2h-5.2zM1082.2 328.1h5.2v5.2h-5.2zM1087.4 328.1h5.2v10.4h-5.2zM1092.6 328.1h5.2v5.2h-5.2zM1097.8 328.1h5.2v5.2h-5.2zM1103 328.1h5.2v5.2h-5.2zM1108.2 328.1h5.2v5.2h-5.2zM1113.4 328.1h5.2v5.2h-5.2zM1118.6 328.1h5.2v5.2h-5.2zM1123.8 328.1h5.2v5.2h-5.2zM1129 328.1h5.2v5.2h-5.2zM1134.2 328.1h5.2v5.2h-5.2zM1139.4 328.1h5.2v5.2h-5.2zM1144.6 328.1h5.2v10.4h-5.2zM1149.8 328.1h5.2v5.2h-5.2zM1155 328.1h5.2v5.2h-5.2zM1160.2 328.1h5.2v5.2h-5.2zM1165.4 328.1h5.2v5.2h-5.2zM1170.6 328.1h5.2v5.2h-5.2zM1175.8 328.1h5.2v5.2h-5.2zM1181 328.1h5.2v10.4h-5.2zM1186.2 328.1h5.2v5.2h-5.2zM1191.4 328.1h5.2v5.2h-5.2zM1196.6 328.1h5.2v5.2h-5.2zM1201.8 328.1h5.2v5.2h-5.2zM1207 322.9h5.2v10.4h-5.2zM1212.2 328.1h5.2v5.2h-5.2zM1217.4 328.1h5.2v5.2h-5.2zM1222.6 328.1h5.2v5.2h-5.2zM1227.8 328.1h5.2v5.2h-5.2zM1233 328.1h5.2v5.2h-5.2zM1238.2 328.1h5.2v5.2h-5.2zM1243.4 328.1h5.2v5.2h-5.2zM1248.6 328.1h5.2v5.2h-5.2zM1253.8 328.1h5.2v5.2h-5.2zM1259 328.1h5.2v5.2h-5.2zM1264.2 328.1h5.2v5.2h-5.2zM1269.4 322.9h5.2v10.4h-5.2zM1274.6 328.1h5.2v5.2h-5.2zM1279.8 328.1h5.2v5.2h-5.2zM1285 328.1h5.2v5.2h-5.2zM1290.2 328.1h5.2v5.2h-5.2zM1295.4 328.1h5.2v10.4h-5.2zM1300.6 328.1h5.2v5.2h-5.2zM1305.8 328.1h5.2v5.2h-5.2z" fill="#00c0c0"/>
<path d="M135.8 697.7h5.2v46.9h-5.2zM141 713.4h5.2v26h-5.2zM146.2 697.7h5.2v41.6h-5.2zM151.4 702.9h5.2v41.6h-5.2zM156.6 708.2h5.2v31.2h-5.2zM161.8 702.9h5.2v36.4h-5.2zM167 697.7h5.2v67.7h-5.2zM172.2 692.5h5.2v52.1h-5.2zM177.4 713.4h5.2v26h-5.2zM182.6 708.2h5.2v31.2h-5.2zM187.8 708.2h5.2v52.1h-5.2zM193 713.4h5.2v26h-5.2zM198.2 702.9h5.2v41.6h-5.2zM203.4 708.2h5.2v36.4h-5.2zM208.6 697.7h5.2v41.6h-5.2zM213.8 702.9h5.2v36.4h-5.2zM219 708.2h5.2v26h-5.2zM224.2 708.2h5.2v20.8h-5.2zM229.4 697.7h5.2v46.9h-5.2zM234.6 697.7h5.2v46.9h-5.2zM239.8 708.2h5.2v41.6h-5.2zM245 713.4h5.2v31.2h-5.2zM250.2 702.9h5.2v46.9h-5.2zM255.4 697.7h5.2v41.6h-5.2zM260.6 697.7h5.2v41.6h-5.2zM265.8 702.9h5.2v52.1h-5.2zM271 692.5h5.2v67.7h-5.2zM276.2 702.9h5.2v41.6h-5.2zM281.4 697.7h5.2v36.4h-5.2zM286.6 708.2h5.2v36.4h-5.2zM291.8 713.4h5.2v26h-5.2zM297 713.4h5.2v20.8h-5.2zM302.2 692.5h5.2v41.6h-5.2zM307.4 708.2h5.2v31.2h-5.2zM312.6 713.4h5.2v36.4h-5.2zM317.8 713.4h5.2v31.2h-5.2zM323 687.3h5.2v46.9h-5.2zM328.2 697.7h5.2v46.9h-5.2zM333.4 702.9h5.2v31.2h-5.2zM338.6 708.2h5.2v31.2h-5.2zM343.8 702.9h5.2v41.6h-5.2zM349 708.2h5.2v36.4h-5.2zM354.2 702.9h5.2v46.9h-5.2zM359.4 713.4h5.2v36.4h-5.2zM364.6 708.2h5.2v36.4h-5.2zM369.8 708.2h5.2v36.4h-5.2zM375 702.9h5.2v36.4h-5.2zM380.2 702.9h5.2v46.9h-5.2zM385.4 702.9h5.2v36.4h-5.2zM390.6 708.2h5.2v36.4h-5.2zM395.8 708.2h5.2v41.6h-5.2zM401 702.9h5.2v52.1h-5.2zM406.2 702.9h5.2v36.4h-5.2zM411.4 697.7h5.2v41.6h-5.2zM416.6 713.4h5.2v36.4h-5.2zM421.8 718.6h5.2v31.2h-5.2zM427 708.2h5.2v31.2h-5.2zM432.2 713.4h5.2v31.2h-5.2zM437.4 708.2h5.2v46.9h-5.2zM442.6 708.2h5.2v46.9h-5.2zM447.8 708.2h5.2v41.6h-5.2zM453 702.9h5.2v31.2h-5.2zM458.2 702.9h5.2v31.2h-5.2zM463.4 708.2h5.2v31.2h-5.2zM468.6 713.4h5.2v31.2h-5.2zM473.8 708.2h5.2v36.4h-5.2zM479 713.4h5.2v31.2h-5.2zM484.2 718.6h5.2v20.8h-5.2zM489.4 604h5.2v119.7h-5.2zM494.6 531.2h5.2v88.5h-5.2zM499.8 484.3h5.2v72.9h-5.2zM505 531.2h5.2v83.3h-5.2zM510.2 593.6h5.2v78.1h-5.2zM515.4 614.4h5.2v67.7h-5.2zM520.6 656.1h5.2v57.3h-5.2zM525.8 661.3h5.2v57.3h-5.2zM531 687.3h5.2v41.6h-5.2zM536.2 676.9h5.2v57.3h-5.2zM541.4 697.7h5.2v52.1h-5.2zM546.6 708.2h5.2v46.9h-5.2zM551.8 708.2h5.2v36.4h-5.2zM557 708.2h5.2v36.4h-5.2zM562.2 708.2h5.2v36.4h-5.2zM567.4 713.4h5.2v36.4h-5.2zM572.6 702.9h5.2v41.6h-5.2zM577.8 708.2h5.2v36.4h-5.2zM583 702.9h5.2v52.1h-5.2zM588.2 702.9h5.2v41.6h-5.2zM593.4 702.9h5.2v36.4h-5.2zM598.6 702.9h5.2v41.6h-5.2zM603.8 702.9h5.2v52.1h-5.2zM609 702.9h5.2v46.9h-5.2zM614.2 702.9h5.2v41.6h-5.2zM619.4 702.9h5.2v31.2h-5.2zM624.6 697.7h5.2v52.1h-5.2zM629.8 702.9h5.2v41.6h-5.2zM635 702.9h5.2v36.4h-5.2zM640.2 718.6h5.2v15.6h-5.2zM645.4 702.9h5.2v46.9h-5.2zM650.6 708.2h5.2v36.4h-5.2zM655.8 708.2h5.2v31.2h-5.2zM661 713.4h5.2v26h-5.2zM666.2 708.2h5.2v31.2h-5.2zM671.4 708.2h5.2v41.6h-5.2zM676.6 708.2h5.2v36.4h-5.2zM681.8 713.4h5.2v26h-5.2zM687 713.4h5.2v26h-5.2zM692.2 697.7h5.2v41.6h-5.2zM697.4 697.7h5.2v46.9h-5.2zM702.6 708.2h5.2v36.4h-5.2zM707.8 708.2h5.2v36.4h-5.2zM713 702.9h5.2v31.2h-5.2zM718.2 697.7h5.2v36.4h-5.2zM723.4 708.2h5.2v26h-5.2zM728.6 708.2h5.2v20.8h-5.2zM733.8 702.9h5.2v36.4h-5.2zM739 702.9h5.2v31.2h-5.2zM744.2 697.7h5.2v41.6h-5.2zM749.4 713.4h5.2v31.2h-5.2zM754.6 702.9h5.2v41.6h-5.2zM759.8 708.2h5.2v26h-5.2zM765 713.4h5.2v26h-5.2zM770.2 708.2h5.2v26h-5.2zM775.4 702.9h5.2v46.9h-5.2zM780.6 697.7h5.2v52.1h-5.2zM785.8 708.2h5.2v36.4h-5.2zM791 702.9h5.2v41.6h-5.2zM796.2 708.2h5.2v31.2h-5.2zM801.4 702.9h5.2v41.6h-5.2zM806.6 702.9h5.2v26h-5.2zM811.8 713.4h5.2v15.6h-5.2zM817 702.9h5.2v31.2h-5.2zM822.2 697.7h5.2v46.9h-5.2zM827.4 713.4h5.2v15.6h-5.2zM832.6 702.9h5.2v31.2h-5.2zM837.8 702.9h5.2v52.1h-5.2zM843 713.4h5.2v36.4h-5.2zM848.2 702.9h5.2v36.4h-5.2zM853.4 702.9h5.2v41.6h-5.2zM858.6 702.9h5.2v57.3h-5.2zM863.8 718.6h5.2v26h-5.2zM869 697.7h5.2v52.1h-5.2zM874.2 702.9h5.2v41.6h-5.2zM879.4 682.1h5.2v62.5h-5.2zM884.6 708.2h5.2v36.4h-5.2zM889.8 708.2h5.2v26h-5.2zM895 708.2h5.2v36.4h-5.2zM900.2 708.2h5.2v31.2h-5.2zM905.4 702.9h5.2v31.2h-5.2zM910.6 702.9h5.2v52.1h-5.2zM915.8 713.4h5.2v20.8h-5.2zM921 713.4h5.2v20.8h-5.2zM926.2 708.2h5.2v26h-5.2zM931.4 713.4h5.2v26h-5.2zM936.6 708.2h5.2v31.2h-5.2zM941.8 708.2h5.2v31.2h-5.2zM947 708.2h5.2v26h-5.2zM952.2 697.7h5.2v41.6h-5.2zM957.4 671.7h5.2v67.7h-5.2zM962.6 630.1h5.2v67.7h-5.2zM967.8 619.7h5.2v52.1h-5.2zM973 604h5.2v41.6h-5.2zM978.2 588.4h5.2v52.1h-5.2zM983.4 593.6h5.2v31.2h-5.2zM988.6 567.6h5.2v52.1h-5.2zM993.8 572.8h5.2v36.4h-5.2zM999 572.8h5.2v41.6h-5.2zM1004.2 572.8h5.2v36.4h-5.2zM1009.4 562.4h5.2v46.9h-5.2zM1014.6 578h5.2v26h-5.2zM1019.8 567.6h5.2v46.9h-5.2zM1025 572.8h5.2v36.4h-5.2zM1030.2 567.6h5.2v36.4h-5.2zM1035.4 572.8h5.2v36.4h-5.2zM1040.6 562.4h5.2v57.3h-5.2zM1045.8 572.8h5.2v36.4h-5.2zM1051 572.8h5.2v36.4h-5.2zM1056.2 572.8h5.2v31.2h-5.2zM1061.4 562.4h5.2v41.6h-5.2zM1066.6 562.4h5.2v52.1h-5.2zM1071.8 578h5.2v41.6h-5.2zM1077 567.6h5.2v46.9h-5.2zM1082.2 562.4h5.2v57.3h-5.2zM1087.4 562.4h5.2v52.1h-5.2zM1092.6 578h5.2v36.4h-5.2zM1097.8 567.6h5.2v36.4h-5.2zM1103 562.4h5.2v46.9h-5.2zM1108.2 557.2h5.2v52.1h-5.2zM1113.4 562.4h5.2v46.9h-5.2zM1118.6 562.4h5.2v57.3h-5.2zM1123.8 578h5.2v31.2h-5.2zM1129 578h5.2v36.4h-5.2zM1134.2 572.8h5.2v46.9h-5.2zM1139.4 572.8h5.2v46.9h-5.2zM1144.6 572.8h5.2v31.2h-5.2zM1149.8 572.8h5.2v41.6h-5.2zM1155 578h5.2v31.2h-5.2zM1160.2 578h5.2v41.6h-5.2zM1165.4 578h5.2v31.2h-5.2zM1170.6 578h5.2v41.6h-5.2zM1175.8 578h5.2v36.4h-5.2zM1181 583.2h5.2v31.2h-5.2zM1186.2 572.8h5.2v36.4h-5.2zM1191.4 578h5.2v36.4h-5.2zM1196.6 562.4h5.2v57.3h-5.2zM1201.8 572.8h5.2v36.4h-5.2zM1207 578h5.2v41.6h-5.2zM1212.2 567.6h5.2v36.4h-5.2zM1217.4 572.8h5.2v36.4h-5.2zM1222.6 562.4h5.2v46.9h-5.2zM1227.8 562.4h5.2v62.5h-5.2zM1233 572.8h5.2v41.6h-5.2zM1238.2 578h5.2v36.4h-5.2zM1243.4 578h5.2v36.4h-5.2zM1248.6 578h5.2v26h-5.2zM1253.8 567.6h5.2v62.5h-5.2zM1259 567.6h5.2v52.1h-5.2zM1264.2 578h5.2v36.4h-5.2zM1269.4 567.6h5.2v41.6h-5.2zM1274.6 567.6h5.2v41.6h-5.2zM1279.8 572.8h5.2v36.4h-5.2zM1285 567.6h5.2v36.4h-5.2zM1290.2 567.6h5.2v36.4h-5.2zM1295.4 583.2h5.2v26h-5.2zM1300.6 578h5.2v31.2h-5.2zM1305.8 583.2h5.2v20.8h-5.2z" fill="#e080e0"/>
<path d="M135.8 702.9h5.2v36.4h-5.2zM141 718.6h5.2v15.6h-5.2zM146.2 702.9h5.2v31.2h-5.2zM151.4 708.2h5.2v26h-5.2zM156.6 708.2h5.2v26h-5.2zM161.8 708.2h5.2v26h-5.2zM167 702.9h5.2v57.3h-5.2zM172.2 697.7h5.2v36.4h-5.2zM177.4 718.6h5.2v15.6h-5.2zM182.6 708.2h5.2v26h-5.2zM187.8 708.2h5.2v41.6h-5.2zM193 718.6h5.2v20.8h-5.2zM198.2 708.2h5.2v31.2h-5.2zM203.4 713.4h5.2v26h-5.2zM208.6 702.9h5.2v36.4h-5.2zM213.8 708.2h5.2v31.2h-5.2zM219 713.4h5.2v15.6h-5.2zM224.2 708.2h5.2v20.8h-5.2zM229.4 702.9h5.2v36.4h-5.2zM234.6 708.2h5.2v31.2h-5.2zM239.8 713.4h5.2v31.2h-5.2zM245 713.4h5.2v31.2h-5.2zM250.2 702.9h5.2v46.9h-5.2zM255.4 702.9h5.2v31.2h-5.2zM260.6 702.9h5.2v31.2h-5.2zM265.8 708.2h5.2v41.6h-5.2zM271 697.7h5.2v57.3h-5.2zM276.2 713.4h5.2v31.2h-5.2zM281.4 702.9h5.2v31.2h-5.2zM286.6 713.4h5.2v20.8h-5.2zM291.8 713.4h5.2v20.8h-5.2zM297 713.4h5.2v20.8h-5.2zM302.2 702.9h5.2v26h-5.2zM307.4 713.4h5.2v20.8h-5.2zM312.6 713.4h5.2v26h-5.2zM317.8 718.6h5.2v20.8h-5.2zM323 697.7h5.2v36.4h-5.2zM328.2 697.7h5.2v36.4h-5.2zM333.4 708.2h5.2v26h-5.2zM338.6 708.2h5.2v26h-5.2zM343.8 708.2h5.2v31.2h-5.2zM349 708.2h5.2v26h-5.2zM354.2 708.2h5.2v36.4h-5.2zM359.4 713.4h5.2v31.2h-5.2zM364.6 713.4h5.2v26h-5.2zM369.8 708.2h5.2v31.2h-5.2zM375 708.2h5.2v31.2h-5.2zM380.2 708.2h5.2v36.4h-5.2zM385.4 708.2h5.2v31.2h-5.2zM390.6 713.4h5.2v26h-5.2zM395.8 713.4h5.2v31.2h-5.2zM401 702.9h5.2v46.9h-5.2zM406.2 708.2h5.2v31.2h-5.2zM411.4 702.9h5.2v36.4h-5.2zM416.6 718.6h5.2v20.8h-5.2zM421.8 718.6h5.2v26h-5.2zM427 713.4h5.2v20.8h-5.2zM432.2 713.4h5.2v26h-5.2zM437.4 713.4h5.2v36.4h-5.2zM442.6 713.4h5.2v36.4h-5.2zM447.8 713.4h5.2v31.2h-5.2zM453 708.2h5.2v20.8h-5.2zM458.2 708.2h5.2v26h-5.2zM463.4 713.4h5.2v20.8h-5.2zM468.6 713.4h5.2v26h-5.2zM473.8 713.4h5.2v26h-5.2zM479 718.6h5.2v26h-5.2zM484.2 718.6h5.2v15.6h-5.2zM489.4 609.2h5.2v109.3h-5.2zM494.6 536.4h5.2v78.1h-5.2zM499.8 489.5h5.2v62.5h-5.2zM505 536.4h5.2v72.9h-5.2zM510.2 598.8h5.2v67.7h-5.2zM515.4 619.7h5.2v57.3h-5.2zM520.6 661.3h5.2v46.9h-5.2zM525.8 666.5h5.2v46.9h-5.2zM531 692.5h5.2v31.2h-5.2zM536.2 682.1h5.2v46.9h-5.2zM541.4 702.9h5.2v41.6h-5.2zM546.6 713.4h5.2v36.4h-5.2zM551.8 713.4h5.2v26h-5.2zM557 713.4h5.2v26h-5.2zM562.2 713.4h5.2v31.2h-5.2zM567.4 718.6h5.2v26h-5.2zM572.6 708.2h5.2v31.2h-5.2zM577.8 713.4h5.2v26h-5.2zM583 708.2h5.2v41.6h-5.2zM588.2 708.2h5.2v36.4h-5.2zM593.4 708.2h5.2v31.2h-5.2zM598.6 708.2h5.2v31.2h-5.2zM603.8 708.2h5.2v41.6h-5.2zM609 708.2h5.2v41.6h-5.2zM614.2 708.2h5.2v31.2h-5.2zM619.4 708.2h5.2v26h-5.2zM624.6 708.2h5.2v36.4h-5.2zM629.8 708.2h5.2v31.2h-5.2zM635 708.2h5.2v31.2h-5.2zM640.2 718.6h5.2v15.6h-5.2zM645.4 708.2h5.2v41.6h-5.2zM650.6 713.4h5.2v31.2h-5.2zM655.8 713.4h5.2v20.8h-5.2zM661 713.4h5.2v20.8h-5.2zM666.2 713.4h5.2v20.8h-5.2zM671.4 713.4h5.2v31.2h-5.2zM676.6 713.4h5.2v31.2h-5.2zM681.8 713.4h5.2v20.8h-5.2zM687 713.4h5.2v20.8h-5.2zM692.2 702.9h5.2v26h-5.2zM697.4 702.9h5.2v36.4h-5.2zM702.6 713.4h5.2v26h-5.2zM707.8 708.2h5.2v36.4h-5.2zM713 708.2h5.2v20.8h-5.2zM718.2 702.9h5.2v26h-5.2zM723.4 713.4h5.2v15.6h-5.2zM728.6 713.4h5.2v15.6h-5.2zM733.8 708.2h5.2v31.2h-5.2zM739 708.2h5.2v20.8h-5.2zM744.2 702.9h5.2v31.2h-5.2zM749.4 713.4h5.2v26h-5.2zM754.6 708.2h5.2v31.2h-5.2zM759.8 708.2h5.2v26h-5.2zM765 718.6h5.2v15.6h-5.2zM770.2 713.4h5.2v15.6h-5.2zM775.4 708.2h5.2v36.4h-5.2zM780.6 702.9h5.2v41.6h-5.2zM785.8 713.4h5.2v26h-5.2zM791 708.2h5.2v31.2h-5.2zM796.2 708.2h5.2v31.2h-5.2zM801.4 708.2h5.2v31.2h-5.2zM806.6 708.2h5.2v20.8h-5.2zM811.8 713.4h5.2v15.6h-5.2zM817 702.9h5.2v31.2h-5.2zM822.2 702.9h5.2v36.4h-5.2zM827.4 713.4h5.2v15.6h-5.2zM832.6 708.2h5.2v20.8h-5.2zM837.8 708.2h5.2v41.6h-5.2zM843 713.4h5.2v31.2h-5.2zM848.2 708.2h5.2v31.2h-5.2zM853.4 708.2h5.2v31.2h-5.2zM858.6 702.9h5.2v46.9h-5.2zM863.8 718.6h5.2v20.8h-5.2zM869 702.9h5.2v36.4h-5.2zM874.2 708.2h5.2v31.2h-5.2zM879.4 687.3h5.2v52.1h-5.2zM884.6 713.4h5.2v26h-5.2zM889.8 713.4h5.2v20.8h-5.2zM895 713.4h5.2v31.2h-5.2zM900.2 708.2h5.2v26h-5.2zM905.4 708.2h5.2v26h-5.2zM910.6 702.9h5.2v46.9h-5.2zM915.8 718.6h5.2v15.6h-5.2zM921 718.6h5.2v15.6h-5.2zM926.2 713.4h5.2v20.8h-5.2zM931.4 713.4h5.2v20.8h-5.2zM936.6 708.2h5.2v26h-5.2zM941.8 713.4h5.2v20.8h-5.2zM947 713.4h5.2v15.6h-5.2zM952.2 702.9h5.2v31.2h-5.2zM957.4 676.9h5.2v57.3h-5.2zM962.6 635.3h5.2v57.3h-5.2zM967.8 624.9h5.2v41.6h-5.2zM973 609.2h5.2v31.2h-5.2zM978.2 593.6h5.2v41.6h-5.2zM983.4 598.8h5.2v20.8h-5.2zM988.6 572.8h5.2v41.6h-5.2zM993.8 578h5.2v26h-5.2zM999 578h5.2v26h-5.2zM1004.2 578h5.2v26h-5.2zM1009.4 567.6h5.2v36.4h-5.2zM1014.6 583.2h5.2v20.8h-5.2zM1019.8 572.8h5.2v36.4h-5.2zM1025 572.8h5.2v31.2h-5.2zM1030.2 572.8h5.2v31.2h-5.2zM1035.4 578h5.2v26h-5.2zM1040.6 567.6h5.2v46.9h-5.2zM1045.8 578h5.2v26h-5.2zM1051 578h5.2v26h-5.2zM1056.2 578h5.2v26h-5.2zM1061.4 567.6h5.2v36.4h-5.2zM1066.6 567.6h5.2v46.9h-5.2zM1071.8 583.2h5.2v26h-5.2zM1077 578h5.2v31.2h-5.2zM1082.2 567.6h5.2v41.6h-5.2zM1087.4 567.6h5.2v41.6h-5.2zM1092.6 583.2h5.2v26h-5.2zM1097.8 572.8h5.2v31.2h-5.2zM1103 567.6h5.2v36.4h-5.2zM1108.2 567.6h5.2v36.4h-5.2zM1113.4 567.6h5.2v41.6h-5.2zM1118.6 567.6h5.2v46.9h-5.2zM1123.8 583.2h5.2v20.8h-5.2zM1129 583.2h5.2v20.8h-5.2zM1134.2 578h5.2v36.4h-5.2zM1139.4 578h5.2v36.4h-5.2zM1144.6 578h5.2v26h-5.2zM1149.8 578h5.2v31.2h-5.2zM1155 583.2h5.2v20.8h-5.2zM1160.2 583.2h5.2v31.2h-5.2zM1165.4 583.2h5.2v20.8h-5.2zM1170.6 583.2h5.2v31.2h-5.2zM1175.8 583.2h5.2v26h-5.2zM1181 583.2h5.2v26h-5.2zM1186.2 578h5.2v26h-5.2zM1191.4 578h5.2v31.2h-5.2zM1196.6 572.8h5.2v36.4h-5.2zM1201.8 578h5.2v26h-5.2zM1207 583.2h5.2v31.2h-5.2zM1212.2 578h5.2v26h-5.2zM1217.4 578h5.2v26h-5.2zM1222.6 567.6h5.2v36.4h-5.2zM1227.8 567.6h5.2v52.1h-5.2zM1233 578h5.2v31.2h-5.2zM1238.2 583.2h5.2v26h-5.2zM1243.4 583.2h5.2v26h-5.2zM1248.6 583.2h5.2v15.6h-5.2zM1253.8 572.8h5.2v52.1h-5.2zM1259 572.8h5.2v41.6h-5.2zM1264.2 583.2h5.2v31.2h-5.2zM1269.4 572.8h5.2v31.2h-5.2zM1274.6 578h5.2v26h-5.2zM1279.8 578h5.2v26h-5.2zM1285 578h5.2v20.8h-5.2zM1290.2 572.8h5.2v26h-5.2zM1295.4 583.2h5.2v20.8h-5.2zM1300.6 583.2h5.2v20.8h-5.2zM1305.8 588.4h5.2v10.4h-5.2z" fill="#c000c0"/>
<path d="M135.8 984h5.2v10.4h-5.2zM141 978.8h5.2v15.6h-5.2zM146.2 984h5.2v10.4h-5.2zM151.4 984h5.2v10.4h-5.2zM156.6 984h5.2v10.4h-5.2zM161.8 984h5.2v10.4h-5.2zM167 984h5.2v10.4h-5.2zM172.2 984h5.2v10.4h-5.2zM177.4 978.8h5.2v15.6h-5.2zM182.6 984h5.2v10.4h-5.2zM187.8 984h5.2v10.4h-5.2zM193 984h5.2v10.4h-5.2zM198.2 984h5.2v10.4h-5.2zM203.4 984h5.2v10.4h-5.2zM208.6 984h5.2v10.4h-5.2zM213.8 984h5.2v10.4h-5.2zM219 984h5.2v10.4h-5.2zM224.2 984h5.2v10.4h-5.2zM229.4 984h5.2v10.4h-5.2zM234.6 984h5.2v10.4h-5.2zM239.8 984h5.2v10.4h-5.2zM245 984h5.2v10.4h-5.2zM250.2 978.8h5.2v15.6h-5.2zM255.4 978.8h5.2v15.6h-5.2zM260.6 984h5.2v10.4h-5.2zM265.8 978.8h5.2v15.6h-5.2zM271 984h5.2v10.4h-5.2zM276.2 984h5.2v10.4h-5.2zM281.4 978.8h5.2v15.6h-5.2zM286.6 978.8h5.2v15.6h-5.2zM291.8 978.8h5.2v15.6h-5.2zM297 984h5.2v10.4h-5.2zM302.2 978.8h5.2v15.6h-5.2zM307.4 978.8h5.2v15.6h-5.2zM312.6 984h5.2v10.4h-5.2zM317.8 978.8h5.2v15.6h-5.2zM323 978.8h5.2v15.6h-5.2zM328.2 984h5.2v10.4h-5.2zM333.4 984h5.2v10.4h-5.2zM338.6 978.8h5.2v15.6h-5.2zM343.8 978.8h5.2v15.6h-5.2zM349 984h5.2v10.4h-5.2zM354.2 978.8h5.2v15.6h-5.2zM359.4 984h5.2v10.4h-5.2zM364.6 984h5.2v10.4h-5.2zM369.8 984h5.2v10.4h-5.2zM375 984h5.2v10.4h-5.2zM380.2 978.8h5.2v15.6h-5.2zM385.4 978.8h5.2v15.6h-5.2zM390.6 978.8h5.2v15.6h-5.2zM395.8 978.8h5.2v15.6h-5.2zM401 984h5.2v10.4h-5.2zM406.2 978.8h5.2v15.6h-5.2zM411.4 978.8h5.2v15.6h-5.2zM416.6 978.8h5.2v15.6h-5.2zM421.8 978.8h5.2v15.6h-5.2zM427 984h5.2v10.4h-5.2zM432.2 978.8h5.2v15.6h-5.2zM437.4 978.8h5.2v15.6h-5.2zM442.6 978.8h5.2v15.6h-5.2zM447.8 978.8h5.2v15.6h-5.2zM453 978.8h5.2v15.6h-5.2zM458.2 984h5.2v10.4h-5.2zM463.4 984h5.2v10.4h-5.2zM468.6 984h5.2v10.4h-5.2zM473.8 978.8h5.2v15.6h-5.2zM479 978.8h5.2v15.6h-5.2zM484.2 978.8h5.2v15.6h-5.2zM489.4 978.8h5.2v15.6h-5.2zM494.6 978.8h5.2v15.6h-5.2zM499.8 978.8h5.2v15.6h-5.2zM505 978.8h5.2v15.6h-5.2zM510.2 984h5.2v10.4h-5.2zM515.4 978.8h5.2v15.6h-5.2zM520.6 984h5.2v10.4h-5.2zM525.8 978.8h5.2v15.6h-5.2zM531 984h5.2v10.4h-5.2zM536.2 978.8h5.2v15.6h-5.2zM541.4 978.8h5.2v15.6h-5.2zM546.6 978.8h5.2v15.6h-5.2zM551.8 978.8h5.2v15.6h-5.2zM557 978.8h5.2v15.6h-5.2zM562.2 978.8h5.2v15.6h-5.2zM567.4 978.8h5.2v15.6h-5.2zM572.6 978.8h5.2v15.6h-5.2zM577.8 984h5.2v10.4h-5.2zM583 978.8h5.2v15.6h-5.2zM588.2 984h5.2v10.4h-5.2zM593.4 984h5.2v10.4h-5.2zM598.6 984h5.2v10.4h-5.2zM603.8 978.8h5.2v15.6h-5.2zM609 984h5.2v10.4h-5.2zM614.2 978.8h5.2v15.6h-5.2zM619.4 984h5.2v10.4h-5.2zM624.6 978.8h5.2v15.6h-5.2zM629.8 978.8h5.2v15.6h-5.2zM635 984h5.2v10.4h-5.2zM640.2 978.8h5.2v15.6h-5.2zM645.4 984h5.2v10.4h-5.2zM650.6 978.8h5.2v15.6h-5.2zM655.8 984h5.2v10.4h-5.2zM661 978.8h5.2v15.6h-5.2zM666.2 984h5.2v10.4h-5.2zM671.4 978.8h5.2v15.6h-5.2zM676.6 984h5.2v10.4h-5.2zM681.8 978.8h5.2v15.6h-5.2zM687 984h5.2v10.4h-5.2zM692.2 984h5.2v10.4h-5.2zM697.4 978.8h5.2v15.6h-5.2zM702.6 978.8h5.2v15.6h-5.2zM707.8 984h5.2v10.4h-5.2zM713 978.8h5.2v15.6h-5.2zM718.2 984h5.2v10.4h-5.2zM723.4 978.8h5.2v15.6h-5.2zM728.6 978.8h5.2v15.6h-5.2zM733.8 978.8h5.2v15.6h-5.2zM739 984h5.2v10.4h-5.2zM744.2 984h5.2v10.4h-5.2zM749.4 978.8h5.2v15.6h-5.2zM754.6 984h5.2v10.4h-5.2zM759.8 978.8h5.2v15.6h-5.2zM765 984h5.2v10.4h-5.2zM770.2 984h5.2v10.4h-5.2zM775.4 978.8h5.2v15.6h-5.2zM780.6 978.8h5.2v15.6h-5.2zM785.8 984h5.2v10.4h-5.2zM791 978.8h5.2v15.6h-5.2zM796.2 984h5.2v10.4h-5.2zM801.4 978.8h5.2v15.6h-5.2zM806.6 978.8h5.2v15.6h-5.2zM811.8 984h5.2v10.4h-5.2zM817 978.8h5.2v15.6h-5.2zM822.2 978.8h5.2v15.6h-5.2zM827.4 978.8h5.2v15.6h-5.2zM832.6 984h5.2v10.4h-5.2zM837.8 978.8h5.2v15.6h-5.2zM843 984h5.2v10.4h-5.2zM848.2 978.8h5.2v15.6h-5.2zM853.4 984h5.2v10.4h-5.2zM858.6 984h5.2v10.4h-5.2zM863.8 978.8h5.2v15.6h-5.2zM869 978.8h5.2v15.6h-5.2zM874.2 978.8h5.2v15.6h-5.2zM879.4 984h5.2v10.4h-5.2zM884.6 978.8h5.2v15.6h-5.2zM889.8 978.8h5.2v15.6h-5.2zM895 978.8h5.2v15.6h-5.2zM900.2 978.8h5.2v15.6h-5.2zM905.4 984h5.2v10.4h-5.2zM910.6 978.8h5.2v15.6h-5.2zM915.8 984h5.2v10.4h-5.2zM921 978.8h5.2v15.6h-5.2zM926.2 984h5.2v10.4h-5.2zM931.4 978.8h5.2v15.6h-5.2zM936.6 984h5.2v10.4h-5.2zM941.8 984h5.2v10.4h-5.2zM947 984h5.2v10.4h-5.2zM952.2 978.8h5.2v15.6h-5.2zM291.8 984h5.2v15.6h-5.2zM416.6 984h5.2v15.6h-5.2zM863.8 984h5.2v15.6h-5.2zM926.2 984h5.2v15.6h-5.2zM957.4 853.9h5.2v15.6h-5.2zM962.6 853.9h5.2v15.6h-5.2zM967.8 853.9h5.2v15.6h-5.2zM973 853.9h5.2v15.6h-5.2zM978.2 853.9h5.2v15.6h-5.2zM983.4 853.9h5.2v15.6h-5.2zM988.6 853.9h5.2v15.6h-5.2zM993.8 853.9h5.2v15.6h-5.2zM999 853.9h5.2v15.6h-5.2zM1004.2 853.9h5.2v15.6h-5.2zM1009.4 853.9h5.2v15.6h-5.2zM1014.6 853.9h5.2v15.6h-5.2zM1019.8 853.9h5.2v15.6h-5.2zM1025 853.9h5.2v15.6h-5.2zM1030.2 853.9h5.2v15.6h-5.2zM1035.4 853.9h5.2v15.6h-5.2zM1040.6 853.9h5.2v15.6h-5.2zM1045.8 853.9h5.2v15.6h-5.2zM1051 853.9h5.2v15.6h-5.2zM1056.2 853.9h5.2v15.6h-5.2zM1061.4 853.9h5.2v15.6h-5.2zM1066.6 853.9h5.2v15.6h-5.2zM1071.8 853.9h5.2v15.6h-5.2zM1077 853.9h5.2v15.6h-5.2zM1082.2 853.9h5.2v15.6h-5.2zM1087.4 853.9h5.2v15.6h-5.2zM1092.6 853.9h5.2v15.6h-5.2zM1097.8 853.9h5.2v15.6h-5.2zM1103 853.9h5.2v15.6h-5.2zM1108.2 853.9h5.2v15.6h-5.2zM1113.4 853.9h5.2v15.6h-5.2zM1118.6 853.9h5.2v15.6h-5.2zM1123.8 853.9h5.2v15.6h-5.2zM1129 853.9h5.2v15.6h-5.2zM1134.2 853.9h5.2v15.6h-5.2zM1139.4 853.9h5.2v15.6h-5.2zM1144.6 853.9h5.2v15.6h-5.2zM1149.8 853.9h5.2v15.6h-5.2zM1155 853.9h5.2v15.6h-5.2zM1160.2 853.9h5.2v15.6h-5.2zM1165.4 853.9h5.2v15.6h-5.2zM1170.6 853.9h5.2v15.6h-5.2zM1175.8 853.9h5.2v15.6h-5.2zM1181 853.9h5.2v15.6h-5.2zM1186.2 853.9h5.2v15.6h-5.2zM1191.4 853.9h5.2v15.6h-5.2zM1196.6 853.9h5.2v15.6h-5.2zM1201.8 853.9h5.2v15.6h-5.2zM1207 853.9h5.2v15.6h-5.2zM1212.2 853.9h5.2v15.6h-5.2zM1217.4 853.9h5.2v15.6h-5.2zM1222.6 853.9h5.2v15.6h-5.2zM1227.8 853.9h5.2v15.6h-5.2zM1233 853.9h5.2v15.6h-5.2zM1238.2 853.9h5.2v15.6h-5.2zM1243.4 853.9h5.2v15.6h-5.2zM1248.6 853.9h5.2v15.6h-5.2zM1253.8 853.9h5.2v15.6h-5.2zM1259 853.9h5.2v15.6h-5.2zM1264.2 853.9h5.2v15.6h-5.2zM1269.4 853.9h5.2v15.6h-5.2zM1274.6 853.9h5.2v15.6h-5.2zM1279.8 853.9h5.2v15.6h-5.2zM1285 853.9h5.2v15.6h-5.2zM1290.2 853.9h5.2v15.6h-5.2zM1295.4 853.9h5.2v15.6h-5.2zM1300.6 853.9h5.2v15.6h-5.2zM1305.8 853.9h5.2v15.6h-5.2z" fill="#80e080"/>
<path d="M141 984h5.2v5.2h-5.2zM177.4 984h5.2v5.2h-5.2zM250.2 984h5.2v5.2h-5.2zM255.4 984h5.2v5.2h-5.2zM265.8 984h5.2v5.2h-5.2zM281.4 984h5.2v5.2h-5.2zM286.6 984h5.2v5.2h-5.2zM291.8 984h5.2v5.2h-5.2zM302.2 984h5.2v5.2h-5.2zM307.4 984h5.2v5.2h-5.2zM317.8 984h5.2v5.2h-5.2zM323 984h5.2v5.2h-5.2zM338.6 984h5.2v5.2h-5.2zM343.8 984h5.2v5.2h-5.2zM354.2 984h5.2v5.2h-5.2zM380.2 984h5.2v5.2h-5.2zM385.4 984h5.2v5.2h-5.2zM390.6 984h5.2v5.2h-5.2zM395.8 984h5.2v5.2h-5.2zM406.2 984h5.2v5.2h-5.2zM411.4 984h5.2v5.2h-5.2zM416.6 984h5.2v5.2h-5.2zM421.8 984h5.2v5.2h-5.2zM432.2 984h5.2v5.2h-5.2zM437.4 984h5.2v5.2h-5.2zM442.6 984h5.2v5.2h-5.2zM447.8 984h5.2v5.2h-5.2zM453 984h5.2v5.2h-5.2zM473.8 984h5.2v5.2h-5.2zM479 984h5.2v5.2h-5.2zM484.2 984h5.2v5.2h-5.2zM489.4 984h5.2v5.2h-5.2zM494.6 984h5.2v5.2h-5.2zM499.8 984h5.2v5.2h-5.2zM505 984h5.2v5.2h-5.2zM515.4 984h5.2v5.2h-5.2zM525.8 984h5.2v5.2h-5.2zM536.2 984h5.2v5.2h-5.2zM541.4 984h5.2v5.2h-5.2zM546.6 984h5.2v5.2h-5.2zM551.8 984h5.2v5.2h-5.2zM557 984h5.2v5.2h-5.2zM562.2 984h5.2v5.2h-5.2zM567.4 984h5.2v5.2h-5.2zM572.6 984h5.2v5.2h-5.2zM583 984h5.2v5.2h-5.2zM603.8 984h5.2v5.2h-5.2zM614.2 984h5.2v5.2h-5.2zM624.6 984h5.2v5.2h-5.2zM629.8 984h5.2v5.2h-5.2zM640.2 984h5.2v5.2h-5.2zM650.6 984h5.2v5.2h-5.2zM661 984h5.2v5.2h-5.2zM671.4 984h5.2v5.2h-5.2zM681.8 984h5.2v5.2h-5.2zM697.4 984h5.2v5.2h-5.2zM702.6 984h5.2v5.2h-5.2zM713 984h5.2v5.2h-5.2zM723.4 984h5.2v5.2h-5.2zM728.6 984h5.2v5.2h-5.2zM733.8 984h5.2v5.2h-5.2zM749.4 984h5.2v5.2h-5.2zM759.8 984h5.2v5.2h-5.2zM775.4 984h5.2v5.2h-5.2zM780.6 984h5.2v5.2h-5.2zM791 984h5.2v5.2h-5.2zM801.4 984h5.2v5.2h-5.2zM806.6 984h5.2v5.2h-5.2zM817 984h5.2v5.2h-5.2zM822.2 984h5.2v5.2h-5.2zM827.4 984h5.2v5.2h-5.2zM837.8 984h5.2v5.2h-5.2zM848.2 984h5.2v5.2h-5.2zM863.8 984h5.2v5.2h-5.2zM869 984h5.2v5.2h-5.2zM874.2 984h5.2v5.2h-5.2zM884.6 984h5.2v5.2h-5.2zM889.8 984h5.2v5.2h-5.2zM895 984h5.2v5.2h-5.2zM900.2 984h5.2v5.2h-5.2zM910.6 984h5.2v5.2h-5.2zM921 984h5.2v5.2h-5.2zM931.4 984h5.2v5.2h-5.2zM952.2 984h5.2v5.2h-5.2zM291.8 984h5.2v10.4h-5.2zM416.6 984h5.2v10.4h-5.2zM863.8 984h5.2v10.4h-5.2zM926.2 984h5.2v10.4h-5.2zM957.4 864.3h5.2v124.9h-5.2zM957.4 859.1h5.2v5.2h-5.2zM962.6 859.1h5.2v5.2h-5.2zM967.8 859.1h5.2v5.2h-5.2zM973 859.1h5.2v5.2h-5.2zM983.4 859.1h5.2v5.2h-5.2zM988.6 859.1h5.2v5.2h-5.2zM999 859.1h5.2v5.2h-5.2zM1004.2 859.1h5.2v5.2h-5.2zM1009.4 859.1h5.2v5.2h-5.2zM1014.6 859.1h5.2v5.2h-5.2zM1019.8 859.1h5.2v5.2h-5.2zM1035.4 859.1h5.2v5.2h-5.2zM1045.8 859.1h5.2v5.2h-5.2zM1051 859.1h5.2v5.2h-5.2zM1061.4 859.1h5.2v5.2h-5.2zM1071.8 859.1h5.2v5.2h-5.2zM1077 859.1h5.2v5.2h-5.2zM1082.2 859.1h5.2v5.2h-5.2zM1087.4 859.1h5.2v5.2h-5.2zM1092.6 859.1h5.2v5.2h-5.2zM1097.8 859.1h5.2v5.2h-5.2zM1103 859.1h5.2v5.2h-5.2zM1113.4 859.1h5.2v5.2h-5.2zM1118.6 859.1h5.2v5.2h-5.2zM1123.8 859.1h5.2v5.2h-5.2zM1129 859.1h5.2v5.2h-5.2zM1134.2 859.1h5.2v5.2h-5.2zM1144.6 859.1h5.2v5.2h-5.2zM1149.8 859.1h5.2v5.2h-5.2zM1155 859.1h5.2v5.2h-5.2zM1160.2 859.1h5.2v5.2h-5.2zM1165.4 859.1h5.2v5.2h-5.2zM1170.6 859.1h5.2v5.2h-5.2zM1175.8 859.1h5.2v5.2h-5.2zM1181 859.1h5.2v5.2h-5.2zM1186.2 859.1h5.2v5.2h-5.2zM1191.4 859.1h5.2v5.2h-5.2zM1196.6 859.1h5.2v5.2h-5.2zM1201.8 859.1h5.2v5.2h-5.2zM1207 859.1h5.2v5.2h-5.2zM1217.4 859.1h5.2v5.2h-5.2zM1233 859.1h5.2v5.2h-5.2zM1238.2 859.1h5.2v5.2h-5.2zM1243.4 859.1h5.2v5.2h-5.2zM1253.8 859.1h5.2v5.2h-5.2zM1259 859.1h5.2v5.2h-5.2zM1264.2 859.1h5.2v5.2h-5.2zM1269.4 859.1h5.2v5.2h-5.2zM1274.6 859.1h5.2v5.2h-5.2zM1279.8 859.1h5.2v5.2h-5.2zM1285 859.1h5.2v5.2h-5.2zM1290.2 859.1h5.2v5.2h-5.2zM1295.4 859.1h5.2v5.2h-5.2zM1300.6 859.1h5.2v5.2h-5.2zM1305.8 859.1h5.2v5.2h-5.2z" fill="#00c000"/>
<path d="M193 93.9h5.2v10.4h-5.2zM193 119.9h5.2v10.4h-5.2zM193 145.9h5.2v10.4h-5.2zM193 172h5.2v10.4h-5.2zM193 198h5.2v10.4h-5.2zM193 224h5.2v10.4h-5.2zM193 250.1h5.2v10.4h-5.2zM193 276.1h5.2v10.4h-5.2zM193 302.1h5.2v10.4h-5.2zM193 328.1h5.2v10.4h-5.2zM193 354.2h5.2v10.4h-5.2zM193 380.2h5.2v10.4h-5.2zM193 406.2h5.2v10.4h-5.2zM193 432.3h5.2v10.4h-5.2zM193 458.3h5.2v10.4h-5.2zM193 484.3h5.2v10.4h-5.2zM193 510.3h5.2v10.4h-5.2zM193 536.4h5.2v10.4h-5.2zM193 562.4h5.2v10.4h-5.2zM193 588.4h5.2v10.4h-5.2zM193 614.4h5.2v10.4h-5.2zM193 640.5h5.2v10.4h-5.2zM193 666.5h5.2v10.4h-5.2zM193 692.5h5.2v10.4h-5.2zM193 718.6h5.2v10.4h-5.2zM193 744.6h5.2v10.4h-5.2zM193 770.6h5.2v10.4h-5.2zM193 796.6h5.2v10.4h-5.2zM193 822.7h5.2v10.4h-5.2zM193 848.7h5.2v10.4h-5.2zM193 874.7h5.2v10.4h-5.2zM193 900.8h5.2v10.4h-5.2zM193 926.8h5.2v10.4h-5.2zM193 952.8h5.2v10.4h-5.2zM193 978.8h5.2v10.4h-5.2zM193 1004.9h5.2v10.4h-5.2zM193 1030.9h5.2v10.4h-5.2zM193 1056.9h5.2v10.4h-5.2zM193 1083h5.2v10.4h-5.2zM323 93.9h5.2v10.4h-5.2zM323 119.9h5.2v10.4h-5.2zM323 145.9h5.2v10.4h-5.2zM323 172h5.2v10.4h-5.2zM323 198h5.2v10.4h-5.2zM323 224h5.2v10.4h-5.2zM323 250.1h5.2v10.4h-5.2zM323 276.1h5.2v10.4h-5.2zM323 302.1h5.2v10.4h-5.2zM323 328.1h5.2v10.4h-5.2zM323 354.2h5.2v10.4h-5.2zM323 380.2h5.2v10.4h-5.2zM323 406.2h5.2v10.4h-5.2zM323 432.3h5.2v10.4h-5.2zM323 458.3h5.2v10.4h-5.2zM323 484.3h5.2v10.4h-5.2zM323 510.3h5.2v10.4h-5.2zM323 536.4h5.2v10.4h-5.2zM323 562.4h5.2v10.4h-5.2zM323 588.4h5.2v10.4h-5.2zM323 614.4h5.2v10.4h-5.2zM323 640.5h5.2v10.4h-5.2zM323 666.5h5.2v10.4h-5.2zM323 692.5h5.2v10.4h-5.2zM323 718.6h5.2v10.4h-5.2zM323 744.6h5.2v10.4h-5.2zM323 770.6h5.2v10.4h-5.2zM323 796.6h5.2v10.4h-5.2zM323 822.7h5.2v10.4h-5.2zM323 848.7h5.2v10.4h-5.2zM323 874.7h5.2v10.4h-5.2zM323 900.8h5.2v10.4h-5.2zM323 926.8h5.2v10.4h-5.2zM323 952.8h5.2v10.4h-5.2zM323 978.8h5.2v10.4h-5.2zM323 1004.9h5.2v10.4h-5.2zM323 1030.9h5.2v10.4h-5.2zM323 1056.9h5.2v10.4h-5.2zM323 1083h5.2v10.4h-5.2zM453 93.9h5.2v10.4h-5.2zM453 119.9h5.2v10.4h-5.2zM453 145.9h5.2v10.4h-5.2zM453 172h5.2v10.4h-5.2zM453 198h5.2v10.4h-5.2zM453 224h5.2v10.4h-5.2zM453 250.1h5.2v10.4h-5.2zM453 276.1h5.2v10.4h-5.2zM453 302.1h5.2v10.4h-5.2zM453 328.1h5.2v10.4h-5.2zM453 354.2h5.2v10.4h-5.2zM453 380.2h5.2v10.4h-5.2zM453 406.2h5.2v10.4h-5.2zM453 432.3h5.2v10.4h-5.2zM453 458.3h5.2v10.4h-5.2zM453 484.3h5.2v10.4h-5.2zM453 510.3h5.2v10.4h-5.2zM453 536.4h5.2v10.4h-5.2zM453 562.4h5.2v10.4h-5.2zM453 588.4h5.2v10.4h-5.2zM453 614.4h5.2v10.4h-5.2zM453 640.5h5.2v10.4h-5.2zM453 666.5h5.2v10.4h-5.2zM453 692.5h5.2v10.4h-5.2zM453 718.6h5.2v10.4h-5.2zM453 744.6h5.2v10.4h-5.2zM453 770.6h5.2v10.4h-5.2zM453 796.6h5.2v10.4h-5.2zM453 822.7h5.2v10.4h-5.2zM453 848.7h5.2v10.4h-5.2zM453 874.7h5.2v10.4h-5.2zM453 900.8h5.2v10.4h-5.2zM453 926.8h5.2v10.4h-5.2zM453 952.8h5.2v10.4h-5.2zM453 978.8h5.2v10.4h-5.2zM453 1004.9h5.2v10.4h-5.2zM453 1030.9h5.2v10.4h-5.2zM453 1056.9h5.2v10.4h-5.2zM453 1083h5.2v10.4h-5.2zM583 93.9h5.2v10.4h-5.2zM583 119.9h5.2v10.4h-5.2zM583 145.9h5.2v10.4h-5.2zM583 172h5.2v10.4h-5.2zM583 198h5.2v10.4h-5.2zM583 224h5.2v10.4h-5.2zM583 250.1h5.2v10.4h-5.2zM583 276.1h5.2v10.4h-5.2zM583 302.1h5.2v10.4h-5.2zM583 328.1h5.2v10.4h-5.2zM583 354.2h5.2v10.4h-5.2zM583 380.2h5.2v10.4h-5.2zM583 406.2h5.2v10.4h-5.2zM583 432.3h5.2v10.4h-5.2zM583 458.3h5.2v10.4h-5.2zM583 484.3h5.2v10.4h-5.2zM583 510.3h5.2v10.4h-5.2zM583 536.4h5.2v10.4h-5.2zM583 562.4h5.2v10.4h-5.2zM583 588.4h5.2v10.4h-5.2zM583 614.4h5.2v10.4h-5.2zM583 640.5h5.2v10.4h-5.2zM583 666.5h5.2v10.4h-5.2zM583 692.5h5.2v10.4h-5.2zM583 718.6h5.2v10.4h-5.2zM583 744.6h5.2v10.4h-5.2zM583 770.6h5.2v10.4h-5.2zM583 796.6h5.2v10.4h-5.2zM583 822.7h5.2v10.4h-5.2zM583 848.7h5.2v10.4h-5.2zM583 874.7h5.2v10.4h-5.2zM583 900.8h5.2v10.4h-5.2zM583 926.8h5.2v10.4h-5.2zM583 952.8h5.2v10.4h-5.2zM583 978.8h5.2v10.4h-5.2zM583 1004.9h5.2v10.4h-5.2zM583 1030.9h5.2v10.4h-5.2zM583 1056.9h5.2v10.4h-5.2zM583 1083h5.2v10.4h-5.2zM707.8 93.9h15.6v10.4h-15.6zM707.8 119.9h15.6v10.4h-15.6zM707.8 145.9h15.6v10.4h-15.6zM707.8 172h15.6v10.4h-15.6zM707.8 198h15.6v10.4h-15.6zM707.8 224h15.6v10.4h-15.6zM707.8 250.1h15.6v10.4h-15.6zM707.8 276.1h15.6v10.4h-15.6zM707.8 302.1h15.6v10.4h-15.6zM707.8 328.1h15.6v10.4h-15.6zM707.8 354.2h15.6v10.4h-15.6zM707.8 380.2h15.6v10.4h-15.6zM707.8 406.2h15.6v10.4h-15.6zM707.8 432.3h15.6v10.4h-15.6zM707.8 458.3h15.6v10.4h-15.6zM707.8 484.3h15.6v10.4h-15.6zM707.8 510.3h15.6v10.4h-15.6zM707.8 536.4h15.6v10.4h-15.6zM707.8 562.4h15.6v10.4h-15.6zM707.8 588.4h15.6v10.4h-15.6zM707.8 614.4h15.6v10.4h-15.6zM707.8 640.5h15.6v10.4h-15.6zM707.8 666.5h15.6v10.4h-15.6zM707.8 692.5h15.6v10.4h-15.6zM707.8 718.6h15.6v10.4h-15.6zM707.8 744.6h15.6v10.4h-15.6zM707.8 770.6h15.6v10.4h-15.6zM707.8 796.6h15.6v10.4h-15.6zM707.8 822.7h15.6v10.4h-15.6zM707.8 848.7h15.6v10.4h-15.6zM707.8 874.7h15.6v10.4h-15.6zM707.8 900.8h15.6v10.4h-15.6zM707.8 926.8h15.6v10.4h-15.6zM707.8 952.8h15.6v10.4h-15.6zM707.8 978.8h15.6v10.4h-15.6zM707.8 1004.9h15.6v10.4h-15.6zM707.8 1030.9h15.6v10.4h-15.6zM707.8 1056.9h15.6v10.4h-15.6zM707.8 1083h15.6v10.4h-15.6zM843 93.9h5.2v10.4h-5.2zM843 119.9h5.2v10.4h-5.2zM843 145.9h5.2v10.4h-5.2zM843 172h5.2v10.4h-5.2zM843 198h5.2v10.4h-5.2zM843 224h5.2v10.4h-5.2zM843 250.1h5.2v10.4h-5.2zM843 276.1h5.2v10.4h-5.2zM843 302.1h5.2v10.4h-5.2zM843 328.1h5.2v10.4h-5.2zM843 354.2h5.2v10.4h-5.2zM843 380.2h5.2v10.4h-5.2zM843 406.2h5.2v10.4h-5.2zM843 432.3h5.2v10.4h-5.2zM843 458.3h5.2v10.4h-5.2zM843 484.3h5.2v10.4h-5.2zM843 510.3h5.2v10.4h-5.2zM843 536.4h5.2v10.4h-5.2zM843 562.4h5.2v10.4h-5.2zM843 588.4h5.2v10.4h-5.2zM843 614.4h5.2v10.4h-5.2zM843 640.5h5.2v10.4h-5.2zM843 666.5h5.2v10.4h-5.2zM843 692.5h5.2v10.4h-5.2zM843 718.6h5.2v10.4h-5.2zM843 744.6h5.2v10.4h-5.2zM843 770.6h5.2v10.4h-5.2zM843 796.6h5.2v10.4h-5.2zM843 822.7h5.2v10.4h-5.2zM843 848.7h5.2v10.4h-5.2zM843 874.7h5.2v10.4h-5.2zM843 900.8h5.2v10.4h-5.2zM843 926.8h5.2v10.4h-5.2zM843 952.8h5.2v10.4h-5.2zM843 978.8h5.2v10.4h-5.2zM843 1004.9h5.2v10.4h-5.2zM843 1030.9h5.2v10.4h-5.2zM843 1056.9h5.2v10.4h-5.2zM843 1083h5.2v10.4h-5.2zM973 93.9h5.2v10.4h-5.2zM973 119.9h5.2v10.4h-5.2zM973 145.9h5.2v10.4h-5.2zM973 172h5.2v10.4h-5.2zM973 198h5.2v10.4h-5.2zM973 224h5.2v10.4h-5.2zM973 250.1h5.2v10.4h-5.2zM973 276.1h5.2v10.4h-5.2zM973 302.1h5.2v10.4h-5.2zM973 328.1h5.2v10.4h-5.2zM973 354.2h5.2v10.4h-5.2zM973 380.2h5.2v10.4h-5.2zM973 406.2h5.2v10.4h-5.2zM973 432.3h5.2v10.4h-5.2zM973 458.3h5.2v10.4h-5.2zM973 484.3h5.2v10.4h-5.2zM973 510.3h5.2v10.4h-5.2zM973 536.4h5.2v10.4h-5.2zM973 562.4h5.2v10.4h-5.2zM973 588.4h5.2v10.4h-5.2zM973 614.4h5.2v10.4h-5.2zM973 640.5h5.2v10.4h-5.2zM973 666.5h5.2v10.4h-5.2zM973 692.5h5.2v10.4h-5.2zM973 718.6h5.2v10.4h-5.2zM973 744.6h5.2v10.4h-5.2zM973 770.6h5.2v10.4h-5.2zM973 796.6h5.2v10.4h-5.2zM973 822.7h5.2v10.4h-5.2zM973 848.7h5.2v10.4h-5.2zM973 874.7h5.2v10.4h-5.2zM973 900.8h5.2v10.4h-5.2zM973 926.8h5.2v10.4h-5.2zM973 952.8h5.2v10.4h-5.2zM973 978.8h5.2v10.4h-5.2zM973 1004.9h5.2v10.4h-5.2zM973 1030.9h5.2v10.4h-5.2zM973 1056.9h5.2v10.4h-5.2zM973 1083h5.2v10.4h-5.2zM1103 93.9h5.2v10.4h-5.2zM1103 119.9h5.2v10.4h-5.2zM1103 145.9h5.2v10.4h-5.2zM1103 172h5.2v10.4h-5.2zM1103 198h5.2v10.4h-5.2zM1103 224h5.2v10.4h-5.2zM1103 250.1h5.2v10.4h-5.2zM1103 276.1h5.2v10.4h-5.2zM1103 302.1h5.2v10.4h-5.2zM1103 328.1h5.2v10.4h-5.2zM1103 354.2h5.2v10.4h-5.2zM1103 380.2h5.2v10.4h-5.2zM1103 406.2h5.2v10.4h-5.2zM1103 432.3h5.2v10.4h-5.2zM1103 458.3h5.2v10.4h-5.2zM1103 484.3h5.2v10.4h-5.2zM1103 510.3h5.2v10.4h-5.2zM1103 536.4h5.2v10.4h-5.2zM1103 562.4h5.2v10.4h-5.2zM1103 588.4h5.2v10.4h-5.2zM1103 614.4h5.2v10.4h-5.2zM1103 640.5h5.2v10.4h-5.2zM1103 666.5h5.2v10.4h-5.2zM1103 692.5h5.2v10.4h-5.2zM1103 718.6h5.2v10.4h-5.2zM1103 744.6h5.2v10.4h-5.2zM1103 770.6h5.2v10.4h-5.2zM1103 796.6h5.2v10.4h-5.2zM1103 822.7h5.2v10.4h-5.2zM1103 848.7h5.2v10.4h-5.2zM1103 874.7h5.2v10.4h-5.2zM1103 900.8h5.2v10.4h-5.2zM1103 926.8h5.2v10.4h-5.2zM1103 952.8h5.2v10.4h-5.2zM1103 978.8h5.2v10.4h-5.2zM1103 1004.9h5.2v10.4h-5.2zM1103 1030.9h5.2v10.4h-5.2zM1103 1056.9h5.2v10.4h-5.2zM1103 1083h5.2v10.4h-5.2zM1233 93.9h5.2v10.4h-5.2zM1233 119.9h5.2v10.4h-5.2zM1233 145.9h5.2v10.4h-5.2zM1233 172h5.2v10.4h-5.2zM1233 198h5.2v10.4h-5.2zM1233 224h5.2v10.4h-5.2zM1233 250.1h5.2v10.4h-5.2zM1233 276.1h5.2v10.4h-5.2zM1233 302.1h5.2v10.4h-5.2zM1233 328.1h5.2v10.4h-5.2zM1233 354.2h5.2v10.4h-5.2zM1233 380.2h5.2v10.4h-5.2zM1233 406.2h5.2v10.4h-5.2zM1233 432.3h5.2v10.4h-5.2zM1233 458.3h5.2v10.4h-5.2zM1233 484.3h5.2v10.4h-5.2zM1233 510.3h5.2v10.4h-5.2zM1233 536.4h5.2v10.4h-5.2zM1233 562.4h5.2v10.4h-5.2zM1233 588.4h5.2v10.4h-5.2zM1233 614.4h5.2v10.4h-5.2zM1233 640.5h5.2v10.4h-5.2zM1233 666.5h5.2v10.4h-5.2zM1233 692.5h5.2v10.4h-5.2zM1233 718.6h5.2v10.4h-5.2zM1233 744.6h5.2v10.4h-5.2zM1233 770.6h5.2v10.4h-5.2zM1233 796.6h5.2v10.4h-5.2zM1233 822.7h5.2v10.4h-5.2zM1233 848.7h5.2v10.4h-5.2zM1233 874.7h5.2v10.4h-5.2zM1233 900.8h5.2v10.4h-5.2zM1233 926.8h5.2v10.4h-5.2zM1233 952.8h5.2v10.4h-5.2zM1233 978.8h5.2v10.4h-5.2zM1233 1004.9h5.2v10.4h-5.2zM1233 1030.9h5.2v10.4h-5.2zM1233 1056.9h5.2v10.4h-5.2zM1233 1083h5.2v10.4h-5.2zM89 198h5.2v10.4h-5.2zM115 198h5.2v10.4h-5.2zM141 198h5.2v10.4h-5.2zM167 198h5.2v10.4h-5.2zM193 198h5.2v10.4h-5.2zM219 198h5.2v10.4h-5.2zM245 198h5.2v10.4h-5.2zM271 198h5.2v10.4h-5.2zM297 198h5.2v10.4h-5.2zM323 198h5.2v10.4h-5.2zM349 198h5.2v10.4h-5.2zM375 198h5.2v10.4h-5.2zM401 198h5.2v10.4h-5.2zM427 198h5.2v10.4h-5.2zM453 198h5.2v10.4h-5.2zM479 198h5.2v10.4h-5.2zM505 198h5.2v10.4h-5.2zM531 198h5.2v10.4h-5.2zM557 198h5.2v10.4h-5.2zM583 198h5.2v10.4h-5.2zM609 198h5.2v10.4h-5.2zM635 198h5.2v10.4h-5.2zM661 198h5.2v10.4h-5.2zM687 198h5.2v10.4h-5.2zM713 198h5.2v10.4h-5.2zM739 198h5.2v10.4h-5.2zM765 198h5.2v10.4h-5.2zM791 198h5.2v10.4h-5.2zM817 198h5.2v10.4h-5.2zM843 198h5.2v10.4h-5.2zM869 198h5.2v10.4h-5.2zM895 198h5.2v10.4h-5.2zM921 198h5.2v10.4h-5.2zM947 198h5.2v10.4h-5.2zM973 198h5.2v10.4h-5.2zM999 198h5.2v10.4h-5.2zM1025 198h5.2v10.4h-5.2zM1051 198h5.2v10.4h-5.2zM1077 198h5.2v10.4h-5.2zM1103 198h5.2v10.4h-5.2zM1129 198h5.2v10.4h-5.2zM1155 198h5.2v10.4h-5.2zM1181 198h5.2v10.4h-5.2zM1207 198h5.2v10.4h-5.2zM1233 198h5.2v10.4h-5.2zM1259 198h5.2v10.4h-5.2zM1285 198h5.2v10.4h-5.2zM1311 198h5.2v10.4h-5.2zM1337 198h5.2v10.4h-5.2zM89 328.1h5.2v10.4h-5.2zM115 328.1h5.2v10.4h-5.2zM141 328.1h5.2v10.4h-5.2zM167 328.1h5.2v10.4h-5.2zM193 328.1h5.2v10.4h-5.2zM219 328.1h5.2v10.4h-5.2zM245 328.1h5.2v10.4h-5.2zM271 328.1h5.2v10.4h-5.2zM297 328.1h5.2v10.4h-5.2zM323 328.1h5.2v10.4h-5.2zM349 328.1h5.2v10.4h-5.2zM375 328.1h5.2v10.4h-5.2zM401 328.1h5.2v10.4h-5.2zM427 328.1h5.2v10.4h-5.2zM453 328.1h5.2v10.4h-5.2zM479 328.1h5.2v10.4h-5.2zM505 328.1h5.2v10.4h-5.2zM531 328.1h5.2v10.4h-5.2zM557 328.1h5.2v10.4h-5.2zM583 328.1h5.2v10.4h-5.2zM609 328.1h5.2v10.4h-5.2zM635 328.1h5.2v10.4h-5.2zM661 328.1h5.2v10.4h-5.2zM687 328.1h5.2v10.4h-5.2zM713 328.1h5.2v10.4h-5.2zM739 328.1h5.2v10.4h-5.2zM765 328.1h5.2v10.4h-5.2zM791 328.1h5.2v10.4h-5.2zM817 328.1h5.2v10.4h-5.2zM843 328.1h5.2v10.4h-5.2zM869 328.1h5.2v10.4h-5.2zM895 328.1h5.2v10.4h-5.2zM921 328.1h5.2v10.4h-5.2zM947 328.1h5.2v10.4h-5.2zM973 328.1h5.2v10.4h-5.2zM999 328.1h5.2v10.4h-5.2zM1025 328.1h5.2v10.4h-5.2zM1051 328.1h5.2v10.4h-5.2zM1077 328.1h5.2v10.4h-5.2zM1103 328.1h5.2v10.4h-5.2zM1129 328.1h5.2v10.4h-5.2zM1155 328.1h5.2v10.4h-5.2zM1181 328.1h5.2v10.4h-5.2zM1207 328.1h5.2v10.4h-5.2zM1233 328.1h5.2v10.4h-5.2zM1259 328.1h5.2v10.4h-5.2zM1285 328.1h5.2v10.4h-5.2zM1311 328.1h5.2v10.4h-5.2zM1337 328.1h5.2v10.4h-5.2zM89 458.3h5.2v10.4h-5.2zM115 458.3h5.2v10.4h-5.2zM141 458.3h5.2v10.4h-5.2zM167 458.3h5.2v10.4h-5.2zM193 458.3h5.2v10.4h-5.2zM219 458.3h5.2v10.4h-5.2zM245 458.3h5.2v10.4h-5.2zM271 458.3h5.2v10.4h-5.2zM297 458.3h5.2v10.4h-5.2zM323 458.3h5.2v10.4h-5.2zM349 458.3h5.2v10.4h-5.2zM375 458.3h5.2v10.4h-5.2zM401 458.3h5.2v10.4h-5.2zM427 458.3h5.2v10.4h-5.2zM453 458.3h5.2v10.4h-5.2zM479 458.3h5.2v10.4h-5.2zM505 458.3h5.2v10.4h-5.2zM531 458.3h5.2v10.4h-5.2zM557 458.3h5.2v10.4h-5.2zM583 458.3h5.2v10.4h-5.2zM609 458.3h5.2v10.4h-5.2zM635 458.3h5.2v10.4h-5.2zM661 458.3h5.2v10.4h-5.2zM687 458.3h5.2v10.4h-5.2zM713 458.3h5.2v10.4h-5.2zM739 458.3h5.2v10.4h-5.2zM765 458.3h5.2v10.4h-5.2zM791 458.3h5.2v10.4h-5.2zM817 458.3h5.2v10.4h-5.2zM843 458.3h5.2v10.4h-5.2zM869 458.3h5.2v10.4h-5.2zM895 458.3h5.2v10.4h-5.2zM921 458.3h5.2v10.4h-5.2zM947 458.3h5.2v10.4h-5.2zM973 458.3h5.2v10.4h-5.2zM999 458.3h5.2v10.4h-5.2zM1025 458.3h5.2v10.4h-5.2zM1051 458.3h5.2v10.4h-5.2zM1077 458.3h5.2v10.4h-5.2zM1103 458.3h5.2v10.4h-5.2zM1129 458.3h5.2v10.4h-5.2zM1155 458.3h5.2v10.4h-5.2zM1181 458.3h5.2v10.4h-5.2zM1207 458.3h5.2v10.4h-5.2zM1233 458.3h5.2v10.4h-5.2zM1259 458.3h5.2v10.4h-5.2zM1285 458.3h5.2v10.4h-5.2zM1311 458.3h5.2v10.4h-5.2zM1337 458.3h5.2v10.4h-5.2zM89 583.2h5.2v20.8h-5.2zM115 583.2h5.2v20.8h-5.2zM141 583.2h5.2v20.8h-5.2zM167 583.2h5.2v20.8h-5.2zM193 583.2h5.2v20.8h-5.2zM219 583.2h5.2v20.8h-5.2zM245 583.2h5.2v20.8h-5.2zM271 583.2h5.2v20.8h-5.2zM297 583.2h5.2v20.8h-5.2zM323 583.2h5.2v20.8h-5.2zM349 583.2h5.2v20.8h-5.2zM375 583.2h5.2v20.8h-5.2zM401 583.2h5.2v20.8h-5.2zM427 583.2h5.2v20.8h-5.2zM453 583.2h5.2v20.8h-5.2zM479 583.2h5.2v20.8h-5.2zM505 583.2h5.2v20.8h-5.2zM531 583.2h5.2v20.8h-5.2zM557 583.2h5.2v20.8h-5.2zM583 583.2h5.2v20.8h-5.2zM609 583.2h5.2v20.8h-5.2zM635 583.2h5.2v20.8h-5.2zM661 583.2h5.2v20.8h-5.2zM687 583.2h5.2v20.8h-5.2zM713 583.2h5.2v20.8h-5.2zM739 583.2h5.2v20.8h-5.2zM765 583.2h5.2v20.8h-5.2zM791 583.2h5.2v20.8h-5.2zM817 583.2h5.2v20.8h-5.2zM843 583.2h5.2v20.8h-5.2zM869 583.2h5.2v20.8h-5.2zM895 583.2h5.2v20.8h-5.2zM921 583.2h5.2v20.8h-5.2zM947 583.2h5.2v20.8h-5.2zM973 583.2h5.2v20.8h-5.2zM999 583.2h5.2v20.8h-5.2zM1025 583.2h5.2v20.8h-5.2zM1051 583.2h5.2v20.8h-5.2zM1077 583.2h5.2v20.8h-5.2zM1103 583.2h5.2v20.8h-5.2zM1129 583.2h5.2v20.8h-5.2zM1155 583.2h5.2v20.8h-5.2zM1181 583.2h5.2v20.8h-5.2zM1207 583.2h5.2v20.8h-5.2zM1233 583.2h5.2v20.8h-5.2zM1259 583.2h5.2v20.8h-5.2zM1285 583.2h5.2v20.8h-5.2zM1311 583.2h5.2v20.8h-5.2zM1337 583.2h5.2v20.8h-5.2zM89 718.6h5.2v10.4h-5.2zM115 718.6h5.2v10.4h-5.2zM141 718.6h5.2v10.4h-5.2zM167 718.6h5.2v10.4h-5.2zM193 718.6h5.2v10.4h-5.2zM219 718.6h5.2v10.4h-5.2zM245 718.6h5.2v10.4h-5.2zM271 718.6h5.2v10.4h-5.2zM297 718.6h5.2v10.4h-5.2zM323 718.6h5.2v10.4h-5.2zM349 718.6h5.2v10.4h-5.2zM375 718.6h5.2v10.4h-5.2zM401 718.6h5.2v10.4h-5.2zM427 718.6h5.2v10.4h-5.2zM453 718.6h5.2v10.4h-5.2zM479 718.6h5.2v10.4h-5.2zM505 718.6h5.2v10.4h-5.2zM531 718.6h5.2v10.4h-5.2zM557 718.6h5.2v10.4h-5.2zM583 718.6h5.2v10.4h-5.2zM609 718.6h5.2v10.4h-5.2zM635 718.6h5.2v10.4h-5.2zM661 718.6h5.2v10.4h-5.2zM687 718.6h5.2v10.4h-5.2zM713 718.6h5.2v10.4h-5.2zM739 718.6h5.2v10.4h-5.2zM765 718.6h5.2v10.4h-5.2zM791 718.6h5.2v10.4h-5.2zM817 718.6h5.2v10.4h-5.2zM843 718.6h5.2v10.4h-5.2zM869 718.6h5.2v10.4h-5.2zM895 718.6h5.2v10.4h-5.2zM921 718.6h5.2v10.4h-5.2zM947 718.6h5.2v10.4h-5.2zM973 718.6h5.2v10.4h-5.2zM999 718.6h5.2v10.4h-5.2zM1025 718.6h5.2v10.4h-5.2zM1051 718.6h5.2v10.4h-5.2zM1077 718.6h5.2v10.4h-5.2zM1103 718.6h5.2v10.4h-5.2zM1129 718.6h5.2v10.4h-5.2zM1155 718.6h5.2v10.4h-5.2zM1181 718.6h5.2v10.4h-5.2zM1207 718.6h5.2v10.4h-5.2zM1233 718.6h5.2v10.4h-5.2zM1259 718.6h5.2v10.4h-5.2zM1285 718.6h5.2v10.4h-5.2zM1311 718.6h5.2v10.4h-5.2zM1337 718.6h5.2v10.4h-5.2zM89 848.7h5.2v10.4h-5.2zM115 848.7h5.2v10.4h-5.2zM141 848.7h5.2v10.4h-5.2zM167 848.7h5.2v10.4h-5.2zM193 848.7h5.2v10.4h-5.2zM219 848.7h5.2v10.4h-5.2zM245 848.7h5.2v10.4h-5.2zM271 848.7h5.2v10.4h-5.2zM297 848.7h5.2v10.4h-5.2zM323 848.7h5.2v10.4h-5.2zM349 848.7h5.2v10.4h-5.2zM375 848.7h5.2v10.4h-5.2zM401 848.7h5.2v10.4h-5.2zM427 848.7h5.2v10.4h-5.2zM453 848.7h5.2v10.4h-5.2zM479 848.7h5.2v10.4h-5.2zM505 848.7h5.2v10.4h-5.2zM531 848.7h5.2v10.4h-5.2zM557 848.7h5.2v10.4h-5.2zM583 848.7h5.2v10.4h-5.2zM609 848.7h5.2v10.4h-5.2zM635 848.7h5.2v10.4h-5.2zM661 848.7h5.2v10.4h-5.2zM687 848.7h5.2v10.4h-5.2zM713 848.7h5.2v10.4h-5.2zM739 848.7h5.2v10.4h-5.2zM765 848.7h5.2v10.4h-5.2zM791 848.7h5.2v10.4h-5.2zM817 848.7h5.2v10.4h-5.2zM843 848.7h5.2v10.4h-5.2zM869 848.7h5.2v10.4h-5.2zM895 848.7h5.2v10.4h-5.2zM921 848.7h5.2v10.4h-5.2zM947 848.7h5.2v10.4h-5.2zM973 848.7h5.2v10.4h-5.2zM999 848.7h5.2v10.4h-5.2zM1025 848.7h5.2v10.4h-5.2zM1051 848.7h5.2v10.4h-5.2zM1077 848.7h5.2v10.4h-5.2zM1103 848.7h5.2v10.4h-5.2zM1129 848.7h5.2v10.4h-5.2zM1155 848.7h5.2v10.4h-5.2zM1181 848.7h5.2v10.4h-5.2zM1207 848.7h5.2v10.4h-5.2zM1233 848.7h5.2v10.4h-5.2zM1259 848.7h5.2v10.4h-5.2zM1285 848.7h5.2v10.4h-5.2zM1311 848.7h5.2v10.4h-5.2zM1337 848.7h5.2v10.4h-5.2zM89 978.8h5.2v10.4h-5.2zM115 978.8h5.2v10.4h-5.2zM141 978.8h5.2v10.4h-5.2zM167 978.8h5.2v10.4h-5.2zM193 978.8h5.2v10.4h-5.2zM219 978.8h5.2v10.4h-5.2zM245 978.8h5.2v10.4h-5.2zM271 978.8h5.2v10.4h-5.2zM297 978.8h5.2v10.4h-5.2zM323 978.8h5.2v10.4h-5.2zM349 978.8h5.2v10.4h-5.2zM375 978.8h5.2v10.4h-5.2zM401 978.8h5.2v10.4h-5.2zM427 978.8h5.2v10.4h-5.2zM453 978.8h5.2v10.4h-5.2zM479 978.8h5.2v10.4h-5.2zM505 978.8h5.2v10.4h-5.2zM531 978.8h5.2v10.4h-5.2zM557 978.8h5.2v10.4h-5.2zM583 978.8h5.2v10.4h-5.2zM609 978.8h5.2v10.4h-5.2zM635 978.8h5.2v10.4h-5.2zM661 978.8h5.2v10.4h-5.2zM687 978.8h5.2v10.4h-5.2zM713 978.8h5.2v10.4h-5.2zM739 978.8h5.2v10.4h-5.2zM765 978.8h5.2v10.4h-5.2zM791 978.8h5.2v10.4h-5.2zM817 978.8h5.2v10.4h-5.2zM843 978.8h5.2v10.4h-5.2zM869 978.8h5.2v10.4h-5.2zM895 978.8h5.2v10.4h-5.2zM921 978.8h5.2v10.4h-5.2zM947 978.8h5.2v10.4h-5.2zM973 978.8h5.2v10.4h-5.2zM999 978.8h5.2v10.4h-5.2zM1025 978.8h5.2v10.4h-5.2zM1051 978.8h5.2v10.4h-5.2zM1077 978.8h5.2v10.4h-5.2zM1103 978.8h5.2v10.4h-5.2zM1129 978.8h5.2v10.4h-5.2zM1155 978.8h5.2v10.4h-5.2zM1181 978.8h5.2v10.4h-5.2zM1207 978.8h5.2v10.4h-5.2zM1233 978.8h5.2v10.4h-5.2zM1259 978.8h5.2v10.4h-5.2zM1285 978.8h5.2v10.4h-5.2zM1311 978.8h5.2v10.4h-5.2zM1337 978.8h5.2v10.4h-5.2zM68.2 93.9h10.4v10.4h-10.4zM1352.6 93.9h10.4v10.4h-10.4zM68.2 119.9h10.4v10.4h-10.4zM1352.6 119.9h10.4v10.4h-10.4zM68.2 145.9h10.4v10.4h-10.4zM1352.6 145.9h10.4v10.4h-10.4zM68.2 172h10.4v10.4h-10.4zM1352.6 172h10.4v10.4h-10.4zM68.2 198h10.4v10.4h-10.4zM1352.6 198h10.4v10.4h-10.4zM68.2 224h10.4v10.4h-10.4zM1352.6 224h10.4v10.4h-10.4zM68.2 250.1h10.4v10.4h-10.4zM1352.6 250.1h10.4v10.4h-10.4zM68.2 276.1h10.4v10.4h-10.4zM1352.6 276.1h10.4v10.4h-10.4zM68.2 302.1h10.4v10.4h-10.4zM1352.6 302.1h10.4v10.4h-10.4zM68.2 328.1h10.4v10.4h-10.4zM1352.6 328.1h10.4v10.4h-10.4zM68.2 354.2h10.4v10.4h-10.4zM1352.6 354.2h10.4v10.4h-10.4zM68.2 380.2h10.4v10.4h-10.4zM1352.6 380.2h10.4v10.4h-10.4zM68.2 406.2h10.4v10.4h-10.4zM1352.6 406.2h10.4v10.4h-10.4zM68.2 432.3h10.4v10.4h-10.4zM1352.6 432.3h10.4v10.4h-10.4zM68.2 458.3h10.4v10.4h-10.4zM1352.6 458.3h10.4v10.4h-10.4zM68.2 484.3h10.4v10.4h-10.4zM1352.6 484.3h10.4v10.4h-10.4zM68.2 510.3h10.4v10.4h-10.4zM1352.6 510.3h10.4v10.4h-10.4zM68.2 536.4h10.4v10.4h-10.4zM1352.6 536.4h10.4v10.4h-10.4zM68.2 562.4h10.4v10.4h-10.4zM1352.6 562.4h10.4v10.4h-10.4zM68.2 588.4h10.4v10.4h-10.4zM1352.6 588.4h10.4v10.4h-10.4zM68.2 614.4h10.4v10.4h-10.4zM1352.6 614.4h10.4v10.4h-10.4zM68.2 640.5h10.4v10.4h-10.4zM1352.6 640.5h10.4v10.4h-10.4zM68.2 666.5h10.4v10.4h-10.4zM1352.6 666.5h10.4v10.4h-10.4zM68.2 692.5h10.4v10.4h-10.4zM1352.6 692.5h10.4v10.4h-10.4zM68.2 718.6h10.4v10.4h-10.4zM1352.6 718.6h10.4v10.4h-10.4zM68.2 744.6h10.4v10.4h-10.4zM1352.6 744.6h10.4v10.4h-10.4zM68.2 770.6h10.4v10.4h-10.4zM1352.6 770.6h10.4v10.4h-10.4zM68.2 796.6h10.4v10.4h-10.4zM1352.6 796.6h10.4v10.4h-10.4zM68.2 822.7h10.4v10.4h-10.4zM1352.6 822.7h10.4v10.4h-10.4zM68.2 848.7h10.4v10.4h-10.4zM1352.6 848.7h10.4v10.4h-10.4zM68.2 874.7h10.4v10.4h-10.4zM1352.6 874.7h10.4v10.4h-10.4zM68.2 900.8h10.4v10.4h-10.4zM1352.6 900.8h10.4v10.4h-10.4zM68.2 926.8h10.4v10.4h-10.4zM1352.6 926.8h10.4v10.4h-10.4zM68.2 952.8h10.4v10.4h-10.4zM1352.6 952.8h10.4v10.4h-10.4zM68.2 978.8h10.4v10.4h-10.4zM1352.6 978.8h10.4v10.4h-10.4zM68.2 1004.9h10.4v10.4h-10.4zM1352.6 1004.9h10.4v10.4h-10.4zM68.2 1030.9h10.4v10.4h-10.4zM1352.6 1030.9h10.4v10.4h-10.4zM68.2 1056.9h10.4v10.4h-10.4zM1352.6 1056.9h10.4v10.4h-10.4zM68.2 1083h10.4v10.4h-10.4zM1352.6 1083h10.4v10.4h-10.4zM89 83.5h5.2v5.2h-5.2zM89 1098.6h5.2v5.2h-5.2zM115 83.5h5.2v5.2h-5.2zM115 1098.6h5.2v5.2h-5.2zM141 83.5h5.2v5.2h-5.2zM141 1098.6h5.2v5.2h-5.2zM167 83.5h5.2v5.2h-5.2zM167 1098.6h5.2v5.2h-5.2zM193 83.5h5.2v5.2h-5.2zM193 1098.6h5.2v5.2h-5.2zM219 83.5h5.2v5.2h-5.2zM219 1098.6h5.2v5.2h-5.2zM245 83.5h5.2v5.2h-5.2zM245 1098.6h5.2v5.2h-5.2zM271 83.5h5.2v5.2h-5.2zM271 1098.6h5.2v5.2h-5.2zM297 83.5h5.2v5.2h-5.2zM297 1098.6h5.2v5.2h-5.2zM323 83.5h5.2v5.2h-5.2zM323 1098.6h5.2v5.2h-5.2zM349 83.5h5.2v5.2h-5.2zM349 1098.6h5.2v5.2h-5.2zM375 83.5h5.2v5.2h-5.2zM375 1098.6h5.2v5.2h-5.2zM401 83.5h5.2v5.2h-5.2zM401 1098.6h5.2v5.2h-5.2zM427 83.5h5.2v5.2h-5.2zM427 1098.6h5.2v5.2h-5.2zM453 83.5h5.2v5.2h-5.2zM453 1098.6h5.2v5.2h-5.2zM479 83.5h5.2v5.2h-5.2zM479 1098.6h5.2v5.2h-5.2zM505 83.5h5.2v5.2h-5.2zM505 1098.6h5.2v5.2h-5.2zM531 83.5h5.2v5.2h-5.2zM531 1098.6h5.2v5.2h-5.2zM557 83.5h5.2v5.2h-5.2zM557 1098.6h5.2v5.2h-5.2zM583 83.5h5.2v5.2h-5.2zM583 1098.6h5.2v5.2h-5.2zM609 83.5h5.2v5.2h-5.2zM609 1098.6h5.2v5.2h-5.2zM635 83.5h5.2v5.2h-5.2zM635 1098.6h5.2v5.2h-5.2zM661 83.5h5.2v5.2h-5.2zM661 1098.6h5.2v5.2h-5.2zM687 83.5h5.2v5.2h-5.2zM687 1098.6h5.2v5.2h-5.2zM713 83.5h5.2v5.2h-5.2zM713 1098.6h5.2v5.2h-5.2zM739 83.5h5.2v5.2h-5.2zM739 1098.6h5.2v5.2h-5.2zM765 83.5h5.2v5.2h-5.2zM765 1098.6h5.2v5.2h-5.2zM791 83.5h5.2v5.2h-5.2zM791 1098.6h5.2v5.2h-5.2zM817 83.5h5.2v5.2h-5.2zM817 1098.6h5.2v5.2h-5.2zM843 83.5h5.2v5.2h-5.2zM843 1098.6h5.2v5.2h-5.2zM869 83.5h5.2v5.2h-5.2zM869 1098.6h5.2v5.2h-5.2zM895 83.5h5.2v5.2h-5.2zM895 1098.6h5.2v5.2h-5.2zM921 83.5h5.2v5.2h-5.2zM921 1098.6h5.2v5.2h-5.2zM947 83.5h5.2v5.2h-5.2zM947 1098.6h5.2v5.2h-5.2zM973 83.5h5.2v5.2h-5.2zM973 1098.6h5.2v5.2h-5.2zM999 83.5h5.2v5.2h-5.2zM999 1098.6h5.2v5.2h-5.2zM1025 83.5h5.2v5.2h-5.2zM1025 1098.6h5.2v5.2h-5.2zM1051 83.5h5.2v5.2h-5.2zM1051 1098.6h5.2v5.2h-5.2zM1077 83.5h5.2v5.2h-5.2zM1077 1098.6h5.2v5.2h-5.2zM1103 83.5h5.2v5.2h-5.2zM1103 1098.6h5.2v5.2h-5.2zM1129 83.5h5.2v5.2h-5.2zM1129 1098.6h5.2v5.2h-5.2zM1155 83.5h5.2v5.2h-5.2zM1155 1098.6h5.2v5.2h-5.2zM1181 83.5h5.2v5.2h-5.2zM1181 1098.6h5.2v5.2h-5.2zM1207 83.5h5.2v5.2h-5.2zM1207 1098.6h5.2v5.2h-5.2zM1233 83.5h5.2v5.2h-5.2zM1233 1098.6h5.2v5.2h-5.2zM1259 83.5h5.2v5.2h-5.2zM1259 1098.6h5.2v5.2h-5.2zM1285 83.5h5.2v5.2h-5.2zM1285 1098.6h5.2v5.2h-5.2zM1311 83.5h5.2v5.2h-5.2zM1311 1098.6h5.2v5.2h-5.2zM1337 83.5h5.2v5.2h-5.2zM1337 1098.6h5.2v5.2h-5.2z" fill="#cccccc" fill-opacity=".5"/>
<text x="16" y="67.9" font-size="84" fill="#111" class="s" font-weight="bold" textLength="120" lengthAdjust="spacingAndGlyphs">Tek</text>
<path d="M271 57.5H302.2V62.7H271zM276.2 52.2H281.4V57.5H276.2zM286.6 52.2H291.8V57.5H286.6zM271 62.7H276.2V67.9H271zM281.4 62.7H286.6V67.9H281.4zM291.8 62.7H297V67.9H291.8zM297 10.6H302.2V15.8H297zM302.2 15.8H328.2V21H302.2zM307.4 10.6H312.6V15.8H307.4zM317.8 10.6H323V15.8H317.8zM302.2 21H307.4V26.2H302.2zM312.6 21H317.8V26.2H312.6zM323 57.5H364.6V62.7H323zM333.4 52.2H338.6V57.5H333.4zM343.8 52.2H349V57.5H343.8zM354.2 52.2H359.4V57.5H354.2zM328.2 62.7H333.4V67.9H328.2zM338.6 62.7H343.8V67.9H338.6zM349 62.7H354.2V67.9H349zM359.4 62.7H364.6V67.9H359.4z" fill="#777777"/>
<path d="M297 15.8H302.2V57.5H297zM323 21H328.2V57.5H323z" fill="#000"/>
<path d="M541.4 10.6H567.4V62.7H541.4zM536.2 15.8H572.6V57.5H536.2zM531 21H577.8V52.2H531z" fill="#d87070"/>
<path d="M541.4 15.8H567.4V57.5H541.4zM536.2 21H572.6V52.2H536.2zM531 26.2H577.8V47H531z" fill="#c00000"/>
<text x="597" y="56.5" font-size="66.2" fill="#d04848" stroke="#d04848" stroke-width="1" textLength="97" lengthAdjust="spacingAndGlyphs">Stop</text>
<text x="945.5" y="56.5" font-size="66.2" fill="#262626" stroke="#262626" stroke-width="1" textLength="332" lengthAdjust="spacingAndGlyphs">M Pos: 40.00ms</text>
<text x="1434.5" y="56.5" font-size="66.2" fill="#262626" stroke="#262626" stroke-width="1" textLength="169.7" lengthAdjust="spacingAndGlyphs">UTILITY</text>
<path d="M707.8 73.1H713V114.7H707.8z" fill="#000"/>
<path d="M692 88.7h36v10.4h-36zM702.3 99h15.6v10.2h-15.6z" fill="#555"/>
<path d="M697.2 88.7h25.8v10.4h-25.8zM705 99h10.4v8h-10.4z" fill="#000"/>
<rect x="1399" y="67.9" width="239" height="10.4" fill="#dddddd"/>
<rect x="1399" y="276.1" width="239" height="10.4" fill="#dddddd"/>
<rect x="1399" y="484.3" width="239" height="10.4" fill="#dddddd"/>
<rect x="1399" y="692.5" width="239" height="10.4" fill="#dddddd"/>
<rect x="1399" y="900.8" width="239" height="10.4" fill="#dddddd"/>
<rect x="1399" y="1109" width="239" height="10.4" fill="#dddddd"/>
<text x="1438.5" y="165.8" font-size="66.2" fill="#262626" stroke="#262626" stroke-width="1" textLength="165.7" lengthAdjust="spacingAndGlyphs">System</text>
<text x="1449.3" y="228.2" font-size="66.2" fill="#262626" stroke="#262626" stroke-width="1" textLength="139.1" lengthAdjust="spacingAndGlyphs">Status</text>
<text x="1438.8" y="405.2" font-size="66.2" fill="#262626" stroke="#262626" stroke-width="1" textLength="160.2" lengthAdjust="spacingAndGlyphs">Options</text>
<text x="1402" y="613.4" font-size="66.2" fill="#262626" stroke="#262626" stroke-width="1" textLength="238" lengthAdjust="spacingAndGlyphs">Do Self Cal</text>
<text x="1422.5" y="821.7" font-size="66.2" fill="#262626" stroke="#262626" stroke-width="1" textLength="192.5" lengthAdjust="spacingAndGlyphs">Error Log</text>
<text x="1417.5" y="998.7" font-size="66.2" fill="#262626" stroke="#262626" stroke-width="1" textLength="207.5" lengthAdjust="spacingAndGlyphs">Language</text>
<rect x="1445.6" y="1010.1" width="151" height="67.7" fill="#777"/>
<rect x="1445.6" y="1015.3" width="151" height="57.3" fill="#000"/>
<text x="1449" y="1061.1" font-size="66.2" fill="#cfcfcf" stroke="#cfcfcf" stroke-width="1" textLength="144.5" lengthAdjust="spacingAndGlyphs">English</text>
<text x="13.5" y="354.4" font-size="58.5" fill="#fbb448" stroke="#fbb448" stroke-width="1" textLength="25" lengthAdjust="spacingAndGlyphs">1</text>
<path d="M41.9 328.2h5.2v-10.4h5.2v5.2h5.2v5.2h5.3v10.4h-5.3v5.2h-5.2v5.2h-5.2v-10.4h-5.2z" fill="#f8c070"/>
<path d="M47.1 323h5.2v5.2h5.2v10.4h-5.2v5.2h-5.2z" fill="#ffa000"/>
<text x="13.5" y="484.6" font-size="58.5" fill="#50d0d0" stroke="#50d0d0" stroke-width="1" textLength="25" lengthAdjust="spacingAndGlyphs">2</text>
<path d="M41.9 458.4h5.2v-10.4h5.2v5.2h5.2v5.2h5.3v10.4h-5.3v5.2h-5.2v5.2h-5.2v-10.4h-5.2z" fill="#78d8d8"/>
<path d="M47.1 453.2h5.2v5.2h5.2v10.4h-5.2v5.2h-5.2z" fill="#00c0c0"/>
<text x="13.5" y="744.9" font-size="58.5" fill="#d458d4" stroke="#d458d4" stroke-width="1" textLength="25" lengthAdjust="spacingAndGlyphs">3</text>
<path d="M41.9 718.7h5.2v-10.4h5.2v5.2h5.2v5.2h5.3v10.4h-5.3v5.2h-5.2v5.2h-5.2v-10.4h-5.2z" fill="#dc78dc"/>
<path d="M47.1 713.5h5.2v5.2h5.2v10.4h-5.2v5.2h-5.2z" fill="#c000c0"/>
<text x="13.5" y="1010.3" font-size="58.5" fill="#48cc48" stroke="#48cc48" stroke-width="1" textLength="25" lengthAdjust="spacingAndGlyphs">4</text>
<path d="M41.9 984.1h5.2v-10.4h5.2v5.2h5.2v5.2h5.3v10.4h-5.3v5.2h-5.2v5.2h-5.2v-10.4h-5.2z" fill="#78d878"/>
<path d="M47.1 978.9h5.2v5.2h5.2v10.4h-5.2v5.2h-5.2z" fill="#00c000"/>
<path d="M1331.1 328.3h5.3v-5.1h5.6v-5.2h5.1v-5.5h5.1v15.8h15.8v10.2h-15.8v15.5h-5.1v-5.2h-5.1v-5.1h-5.6v-5.2h-5.3z" fill="#ffd080"/>
<path d="M1336.4 328.3h5.6v-5.1h5.1v-5.2h5.1v30.8h-5.1v-5.1h-5.1v-5.2h-5.6z" fill="#ffa000"/>
<text x="14.5" y="1165.2" font-size="66.2" fill="#fbb038" stroke="#fbb038" stroke-width="1" textLength="81.9" lengthAdjust="spacingAndGlyphs">CH1</text>
<text x="134" y="1165.2" font-size="66.2" fill="#fbb038" stroke="#fbb038" stroke-width="1" textLength="118.5" lengthAdjust="spacingAndGlyphs">5.00V</text>
<text x="357.3" y="1165.2" font-size="66.2" fill="#3cccd0" stroke="#3cccd0" stroke-width="1" textLength="88.2" lengthAdjust="spacingAndGlyphs">CH2</text>
<text x="477.3" y="1165.2" font-size="66.2" fill="#3cccd0" stroke="#3cccd0" stroke-width="1" textLength="118.7" lengthAdjust="spacingAndGlyphs">5.00V</text>
<text x="705.5" y="1165.2" font-size="66.2" fill="#262626" stroke="#262626" stroke-width="1" textLength="166.5" lengthAdjust="spacingAndGlyphs">M 1.00s</text>
<text x="1206.3" y="1165.2" font-size="66.2" fill="#fbb038" stroke="#fbb038" stroke-width="1" textLength="80.7" lengthAdjust="spacingAndGlyphs">CH1</text>
<text x="1372.7" y="1165.2" font-size="66.2" fill="#fbb038" stroke="#fbb038" stroke-width="1" textLength="116.6" lengthAdjust="spacingAndGlyphs">0.00V</text>
<path d="M1311 1155.8H1326.6V1166.2H1311zM1337 1119.4H1352.6V1129.8H1337zM1331.8 1129.8H1342.2V1135H1331.8zM1331.8 1135H1337V1140.2H1331.8zM1326.6 1140.2H1337V1145.4H1326.6zM1326.6 1145.4H1331.8V1150.6H1326.6zM1321.4 1150.6H1331.8V1155.8H1321.4z" fill="#f8c878"/>
<path d="M1337 1124.6H1342.2V1129.8H1337zM1331.8 1135H1337V1140.2H1331.8zM1326.6 1145.4H1331.8V1150.6H1326.6zM1321.4 1155.8H1326.6V1161H1321.4z" fill="#ffa000"/>
<text x="14.5" y="1238.1" font-size="66.2" fill="#d040d0" stroke="#d040d0" stroke-width="1" textLength="86.5" lengthAdjust="spacingAndGlyphs">CH3</text>
<text x="134" y="1238.1" font-size="66.2" fill="#d040d0" stroke="#d040d0" stroke-width="1" textLength="118.5" lengthAdjust="spacingAndGlyphs">2.00V</text>
<text x="357.3" y="1238.1" font-size="66.2" fill="#40cc40" stroke="#40cc40" stroke-width="1" textLength="88.2" lengthAdjust="spacingAndGlyphs">CH4</text>
<text x="477.3" y="1238.1" font-size="66.2" fill="#40cc40" stroke="#40cc40" stroke-width="1" textLength="118.7" lengthAdjust="spacingAndGlyphs">2.00V</text>
<text x="1206.3" y="1238.1" font-size="66.2" fill="#fbb038" stroke="#fbb038" stroke-width="1" textLength="137.7" lengthAdjust="spacingAndGlyphs">&lt;10Hz</text>
<text x="758" y="164.6" font-size="70" fill="#000" class="s" font-style="italic">n</text>
<text x="794" y="130" font-size="38" fill="#000" class="s">*</text>
<text x="748" y="298.9" font-size="70" fill="#000" class="s" font-style="italic">n</text>
<text x="737.5" y="642.9" font-size="70" fill="#000" class="s" font-style="italic">T</text>
<text x="771.5" y="661.6" font-size="42" fill="#000" class="s" font-style="italic">e</text>
<text x="720.5" y="938" font-size="70" fill="#000" class="s" font-style="italic">T</text>
<text x="756" y="957" font-size="41" fill="#000" class="s" font-style="italic">m</text>
<text x="224" y="1375.6" font-size="82" fill="#000" class="s">(</text>
<text x="251" y="1375.6" font-size="82" fill="#000" class="s" font-style="italic" textLength="49" lengthAdjust="spacingAndGlyphs">n</text>
<text x="303" y="1375.6" font-size="82" fill="#000" class="s">,</text>
<text x="336" y="1375.6" font-size="82" fill="#000" class="s" font-style="italic" textLength="49" lengthAdjust="spacingAndGlyphs">n</text>
<text x="386" y="1357.6" font-size="56" fill="#000" class="s">*</text>
<text x="440" y="1375.6" font-size="82" fill="#000" class="s" textLength="439" lengthAdjust="spacingAndGlyphs">1000rpm/div,</text>
<text x="900.5" y="1375.6" font-size="82" fill="#000" class="s" font-style="italic" textLength="55" lengthAdjust="spacingAndGlyphs">T</text>
<text x="956" y="1385.6" font-size="56" fill="#000" class="s" font-style="italic" textLength="46" lengthAdjust="spacingAndGlyphs">m</text>
<text x="1007" y="1375.6" font-size="82" fill="#000" class="s">,</text>
<text x="1039.5" y="1375.6" font-size="82" fill="#000" class="s" font-style="italic" textLength="55" lengthAdjust="spacingAndGlyphs">T</text>
<text x="1093" y="1385.6" font-size="56" fill="#000" class="s" font-style="italic">e</text>
<text x="1142" y="1375.6" font-size="82" fill="#000" class="s" textLength="316" lengthAdjust="spacingAndGlyphs">2Nm/div)</text>
</svg>
</body></html>
